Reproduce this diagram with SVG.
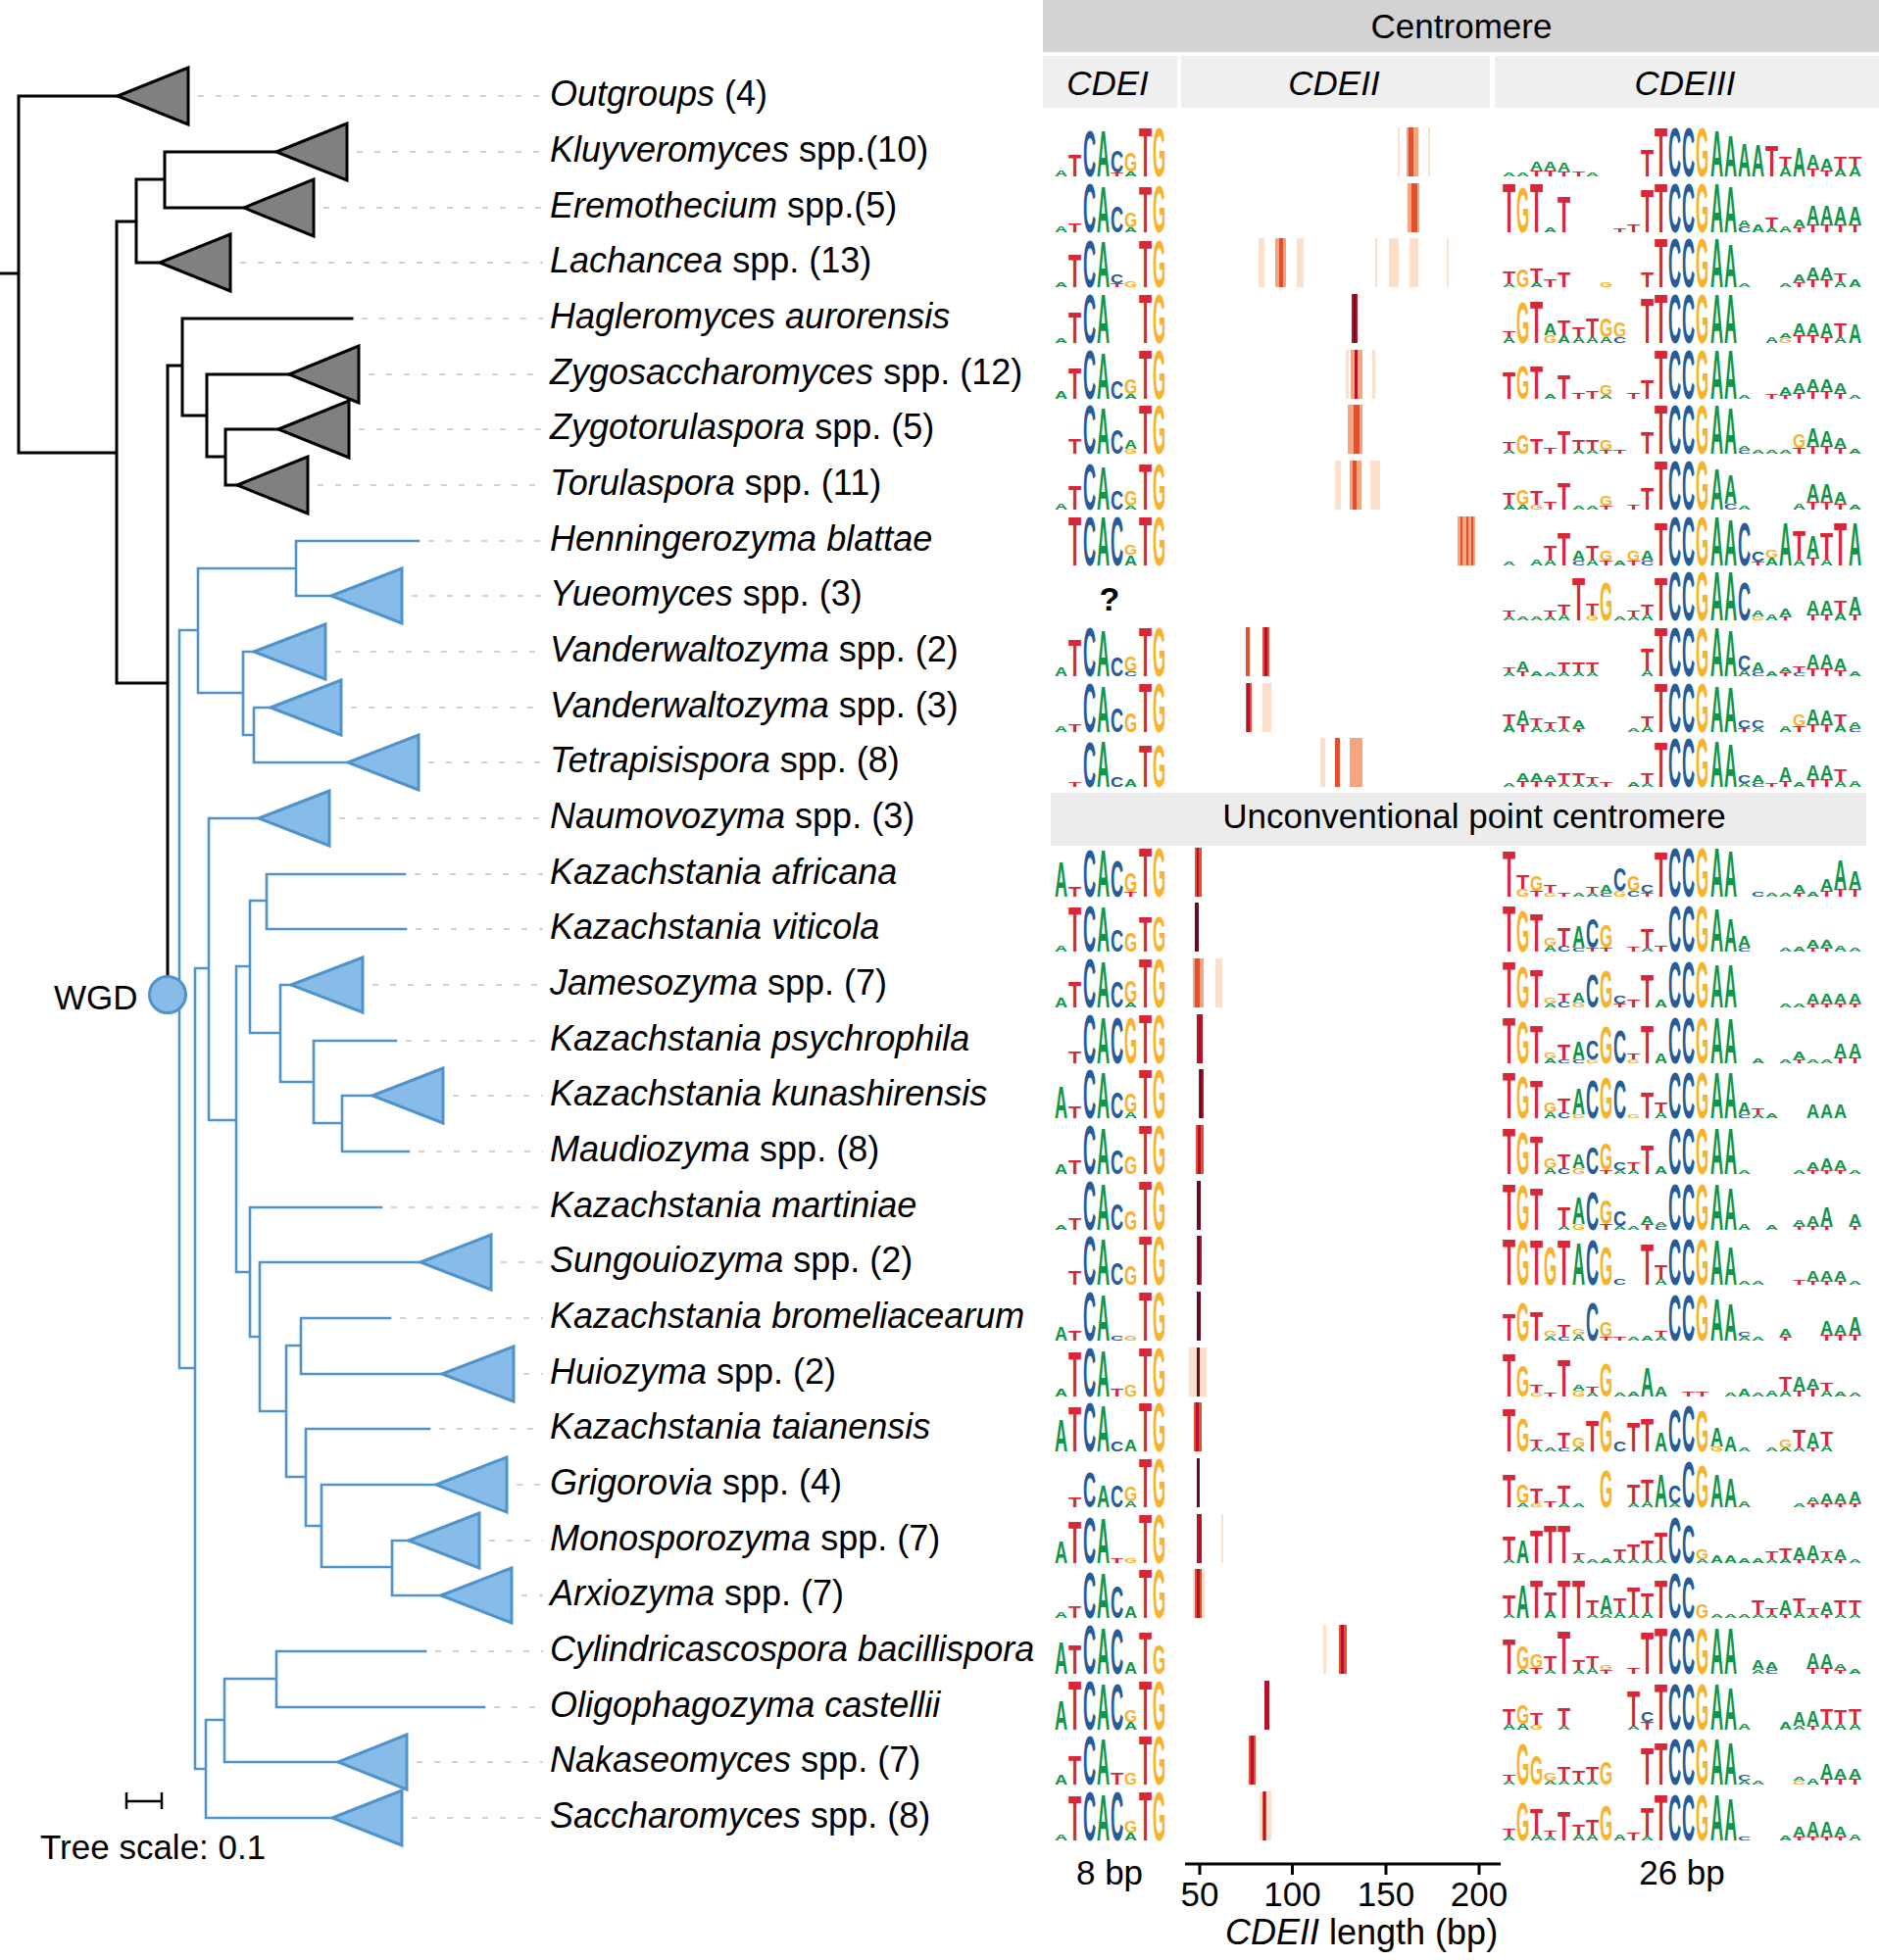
<svg xmlns="http://www.w3.org/2000/svg" width="1917" height="2000" viewBox="0 0 1917 2000">
<style>
.lbl{font-family:"Liberation Sans",Arial,sans-serif;font-size:36px;fill:#000}
.i{font-style:italic}
.hd{font-family:"Liberation Sans",Arial,sans-serif;font-size:35px;text-anchor:middle;fill:#000}
.lg text{font-family:"Liberation Sans",Arial,sans-serif;font-weight:bold;font-size:14px}
.A{fill:#109648}.C{fill:#255C99}.G{fill:#F7B32B}.T{fill:#D62839}
.bk{fill:none;stroke:#000;stroke-width:3;stroke-linecap:square}
.bl{fill:none;stroke:#4f93cc;stroke-width:2.6;stroke-linecap:square}
.gt{fill:#808080;stroke:#000;stroke-width:3}
.bt{fill:#86bce7;stroke:#4f93cc;stroke-width:3}
.dash{stroke:#c4c4c4;stroke-width:1.5;stroke-dasharray:6 12;fill:none}
.b1{fill:#fde0cb}.b2{fill:#f7a47e}.b3{fill:#e4502d}.b4{fill:#b5122a}.b5{fill:#6b0a1f}
.ax{stroke:#000;stroke-width:3;fill:none}
</style>
<rect width="1917" height="2000" fill="#fff"/>
<g id="connectors">
<path class="bk" d="M0 279H19 M19 98V462 M19 98H120 M19 462H119 M119 226V697 M119 226H139 M139 183V268 M139 183H168 M168 155V212 M168 155H282 M168 212H249 M139 268H163 M119 697H171 M171 373V996 M171 373H186 M186 325V424 M186 325H359 M186 424H211 M211 382V466 M211 382H295 M211 466H230 M230 438V495 M230 438H284 M230 495H242"/>
<path class="bl" d="M183 643V1396 M183 643H202 M202 580V707 M202 580H302 M302 552V608 M302 552H427 M302 608H338 M202 707H248 M248 665V750 M248 665H259 M248 750H259 M259 722V778 M259 722H276 M259 778H355 M183 1396H199 M199 988V1805 M199 988H213 M213 835V1143 M213 835H264 M213 1143H241 M241 986V1298 M241 986H255 M255 919V1054 M255 919H272 M272 892V948 M272 892H413 M272 948H414 M255 1054H286 M286 1005V1104 M286 1005H297 M286 1104H320 M320 1062V1146 M320 1062H404 M320 1146H349 M349 1118V1175 M349 1118H380 M349 1175H417 M241 1298H255 M255 1232V1364 M255 1232H389 M255 1364H265 M265 1288V1440 M265 1288H429 M265 1440H292 M292 1373V1507 M292 1373H307 M307 1345V1402 M307 1345H398 M307 1402H451 M292 1507H312 M312 1458V1557 M312 1458H438 M312 1557H328 M328 1515V1599 M328 1515H445 M328 1599H400 M400 1572V1628 M400 1572H417 M400 1628H450 M199 1805H210 M210 1755V1855 M210 1755H229 M229 1713V1798 M229 1713H282 M282 1685V1742 M282 1685H434 M282 1742H494 M229 1798H345 M210 1855H339"/>
<path class="dash" d="M202 98H554 M364 155H554 M330 212H554 M245 268H554 M369 325H554 M376 382H554 M366 438H554 M324 495H554 M437 552H554 M420 608H554 M342 665H554 M358 722H554 M437 778H554 M346 835H554 M423 892H554 M424 948H554 M380 1005H554 M414 1062H554 M462 1118H554 M427 1175H554 M399 1232H554 M511 1288H554 M408 1345H554 M534 1402H554 M448 1458H554 M527 1515H554 M499 1572H554 M532 1628H554 M444 1685H554 M504 1742H554 M425 1798H554 M420 1855H554"/>
</g>
<g id="wgd"><circle cx="171" cy="1015" r="18.5" fill="#86bce7" stroke="#4f93cc" stroke-width="3"/><text x="55" y="1030" font-family="Liberation Sans, Arial, sans-serif" font-size="35">WGD</text></g>
<g id="scale"><path d="M129 1838H165 M129 1829V1846 M165 1829V1846" stroke="#000" stroke-width="2.5" fill="none"/><text x="41" y="1897" font-family="Liberation Sans, Arial, sans-serif" font-size="35">Tree scale: 0.1</text></g>
<g id="n-outgroups"><polygon class="gt" points="120,98 192,69 192,127"/><text class="lbl" x="561" y="108"><tspan class="i">Outgroups</tspan> (4)</text></g>
<g id="n-kluyveromyces"><polygon class="gt" points="282,155 354,126 354,184"/><text class="lbl" x="561" y="165"><tspan class="i">Kluyveromyces</tspan> spp.(10)</text></g>
<g id="n-eremothecium"><polygon class="gt" points="249,212 320,183 320,241"/><text class="lbl" x="561" y="222"><tspan class="i">Eremothecium</tspan> spp.(5)</text></g>
<g id="n-lachancea"><polygon class="gt" points="163,268 235,239 235,297"/><text class="lbl" x="561" y="278"><tspan class="i">Lachancea</tspan> spp. (13)</text></g>
<g id="n-hagleromyces"><text class="lbl i" x="561" y="335">Hagleromyces aurorensis</text></g>
<g id="n-zygosaccharomyces"><polygon class="gt" points="295,382 366,353 366,411"/><text class="lbl" x="561" y="392"><tspan class="i">Zygosaccharomyces</tspan> spp. (12)</text></g>
<g id="n-zygotorulaspora"><polygon class="gt" points="284,438 356,409 356,467"/><text class="lbl" x="561" y="448"><tspan class="i">Zygotorulaspora</tspan> spp. (5)</text></g>
<g id="n-torulaspora"><polygon class="gt" points="242,495 314,466 314,524"/><text class="lbl" x="561" y="505"><tspan class="i">Torulaspora</tspan> spp. (11)</text></g>
<g id="n-henningerozyma"><text class="lbl i" x="561" y="562">Henningerozyma blattae</text></g>
<g id="n-yueomyces"><polygon class="bt" points="338,608 410,580 410,636"/><text class="lbl" x="561" y="618"><tspan class="i">Yueomyces</tspan> spp. (3)</text></g>
<g id="n-vanderwaltozyma2"><polygon class="bt" points="259,665 332,637 332,693"/><text class="lbl" x="561" y="675"><tspan class="i">Vanderwaltozyma</tspan> spp. (2)</text></g>
<g id="n-vanderwaltozyma3"><polygon class="bt" points="276,722 348,694 348,750"/><text class="lbl" x="561" y="732"><tspan class="i">Vanderwaltozyma</tspan> spp. (3)</text></g>
<g id="n-tetrapisispora"><polygon class="bt" points="355,778 427,750 427,806"/><text class="lbl" x="561" y="788"><tspan class="i">Tetrapisispora</tspan> spp. (8)</text></g>
<g id="n-naumovozyma"><polygon class="bt" points="264,835 336,807 336,863"/><text class="lbl" x="561" y="845"><tspan class="i">Naumovozyma</tspan> spp. (3)</text></g>
<g id="n-k-africana"><text class="lbl i" x="561" y="902">Kazachstania africana</text></g>
<g id="n-k-viticola"><text class="lbl i" x="561" y="958">Kazachstania viticola</text></g>
<g id="n-jamesozyma"><polygon class="bt" points="297,1005 370,977 370,1033"/><text class="lbl" x="561" y="1015"><tspan class="i">Jamesozyma</tspan> spp. (7)</text></g>
<g id="n-k-psychrophila"><text class="lbl i" x="561" y="1072">Kazachstania psychrophila</text></g>
<g id="n-k-kunashirensis"><polygon class="bt" points="380,1118 452,1090 452,1146"/><text class="lbl i" x="561" y="1128">Kazachstania kunashirensis</text></g>
<g id="n-maudiozyma"><text class="lbl" x="561" y="1185"><tspan class="i">Maudiozyma</tspan> spp. (8)</text></g>
<g id="n-k-martiniae"><text class="lbl i" x="561" y="1242">Kazachstania martiniae</text></g>
<g id="n-sungouiozyma"><polygon class="bt" points="429,1288 501,1260 501,1316"/><text class="lbl" x="561" y="1298"><tspan class="i">Sungouiozyma</tspan> spp. (2)</text></g>
<g id="n-k-bromeliacearum"><text class="lbl i" x="561" y="1355">Kazachstania bromeliacearum</text></g>
<g id="n-huiozyma"><polygon class="bt" points="451,1402 524,1374 524,1430"/><text class="lbl" x="561" y="1412"><tspan class="i">Huiozyma</tspan> spp. (2)</text></g>
<g id="n-k-taianensis"><text class="lbl i" x="561" y="1468">Kazachstania taianensis</text></g>
<g id="n-grigorovia"><polygon class="bt" points="445,1515 517,1487 517,1543"/><text class="lbl" x="561" y="1525"><tspan class="i">Grigorovia</tspan> spp. (4)</text></g>
<g id="n-monosporozyma"><polygon class="bt" points="417,1572 489,1544 489,1600"/><text class="lbl" x="561" y="1582"><tspan class="i">Monosporozyma</tspan> spp. (7)</text></g>
<g id="n-arxiozyma"><polygon class="bt" points="450,1628 522,1600 522,1656"/><text class="lbl" x="561" y="1638"><tspan class="i">Arxiozyma</tspan> spp. (7)</text></g>
<g id="n-cylindricascospora"><text class="lbl i" x="561" y="1695">Cylindricascospora bacillispora</text></g>
<g id="n-oligophagozyma"><text class="lbl i" x="561" y="1752">Oligophagozyma castellii</text></g>
<g id="n-nakaseomyces"><polygon class="bt" points="345,1798 415,1770 415,1826"/><text class="lbl" x="561" y="1808"><tspan class="i">Nakaseomyces</tspan> spp. (7)</text></g>
<g id="n-saccharomyces"><polygon class="bt" points="339,1855 410,1827 410,1883"/><text class="lbl" x="561" y="1865"><tspan class="i">Saccharomyces</tspan> spp. (8)</text></g>
<g id="headers">
<rect x="1064" y="0" width="853" height="53" fill="#d3d3d3"/>
<text class="hd" x="1491" y="39">Centromere</text>
<rect x="1064" y="57" width="137" height="53" fill="#efefef"/>
<rect x="1205" y="57" width="315" height="53" fill="#efefef"/>
<rect x="1525" y="57" width="392" height="53" fill="#efefef"/>
<text class="hd i" x="1130" y="97">CDEI</text>
<text class="hd i" x="1361" y="97">CDEII</text>
<text class="hd i" x="1719" y="97">CDEIII</text>
<rect x="1072" y="809" width="832" height="54" fill="#ececec"/>
<text class="hd" x="1504" y="845">Unconventional point centromere</text>
</g>
<g id="axis">
<path class="ax" d="M1209 1902H1531 M1224 1902V1913 M1318.5 1902V1913 M1414 1902V1913 M1509 1902V1913"/>
<text class="hd" x="1224" y="1945">50</text><text class="hd" x="1318.5" y="1945">100</text><text class="hd" x="1414" y="1945">150</text><text class="hd" x="1509" y="1945">200</text>
<text class="hd" x="1132" y="1923">8 bp</text><text class="hd" x="1716" y="1923">26 bp</text>
<text class="lbl" x="1250" y="1984"><tspan class="i">CDEII</tspan> length (bp)</text>
</g>
<text id="unknown-cdei" x="1132" y="623" font-family="Liberation Sans, Arial, sans-serif" font-weight="bold" font-size="34" text-anchor="middle" fill="#000">?</text>
<g class="lg">
<g id="logo-r1" transform="translate(0,180)">
<text class="A" transform="matrix(1.3 0 0 .6 1076 0)">A</text><text class="T" transform="matrix(1.54 0 0 2.2 1090 0)">T</text><text class="C" transform="matrix(1.3 0 0 4.8 1105 0)">C</text><text class="A" transform="matrix(1.3 0 0 4.7 1119 0)">A</text><text class="T" transform="matrix(1.54 0 0 .4 1133 0)">T</text><text class="C" transform="matrix(1.3 0 0 2.2 1133 -4)">C</text><text class="A" transform="matrix(1.3 0 0 .5 1147 0)">A</text><text class="G" transform="matrix(1.21 0 0 2 1147 -5)">G</text><text class="T" transform="matrix(1.54 0 0 5 1162 0)">T</text><text class="G" transform="matrix(1.21 0 0 5 1176 0)">G</text>
<rect class="b1" x="1426" y="-50" width="2" height="50"/><rect class="b2" x="1435" y="-50" width="12" height="50"/><rect class="b3" x="1437" y="-50" width="5" height="50"/><rect class="b1" x="1457" y="-50" width="2" height="50"/>
<text class="A" transform="matrix(1.3 0 0 .4 1533 0)">A</text><text class="A" transform="matrix(1.3 0 0 .4 1547 0)">A</text><text class="T" transform="matrix(1.54 0 0 .6 1561 0)">T</text><text class="A" transform="matrix(1.3 0 0 .9 1561 -6)">A</text><text class="T" transform="matrix(1.54 0 0 .6 1575 0)">T</text><text class="A" transform="matrix(1.3 0 0 .9 1575 -6)">A</text><text class="T" transform="matrix(1.54 0 0 .5 1589 0)">T</text><text class="A" transform="matrix(1.3 0 0 .9 1589 -5)">A</text><text class="T" transform="matrix(1.54 0 0 .5 1604 0)">T</text><text class="A" transform="matrix(1.3 0 0 .4 1618 0)">A</text><text class="T" transform="matrix(1.54 0 0 2.8 1674 0)">T</text><text class="T" transform="matrix(1.54 0 0 5 1688 0)">T</text><text class="C" transform="matrix(1.3 0 0 5 1702 0)">C</text><text class="C" transform="matrix(1.3 0 0 5 1716 0)">C</text><text class="G" transform="matrix(1.21 0 0 5 1730 0)">G</text><text class="A" transform="matrix(1.3 0 0 4.8 1745 0)">A</text><text class="A" transform="matrix(1.3 0 0 4.2 1759 0)">A</text><text class="A" transform="matrix(1.3 0 0 3.5 1773 0)">A</text><text class="A" transform="matrix(1.3 0 0 3.3 1787 0)">A</text><text class="T" transform="matrix(1.54 0 0 3.2 1801 0)">T</text><text class="A" transform="matrix(1.3 0 0 1 1815 0)">A</text><text class="T" transform="matrix(1.54 0 0 1 1815 -10)">T</text><text class="A" transform="matrix(1.3 0 0 3 1829 0)">A</text><text class="T" transform="matrix(1.54 0 0 .8 1843 0)">T</text><text class="A" transform="matrix(1.3 0 0 1.5 1843 -8)">A</text><text class="T" transform="matrix(1.54 0 0 .6 1857 0)">T</text><text class="A" transform="matrix(1.3 0 0 1.2 1857 -6)">A</text><text class="A" transform="matrix(1.3 0 0 .8 1871 0)">A</text><text class="T" transform="matrix(1.54 0 0 1.2 1871 -8)">T</text><text class="A" transform="matrix(1.3 0 0 1 1886 0)">A</text><text class="T" transform="matrix(1.54 0 0 1 1886 -10)">T</text>
</g>
<g id="logo-r2" transform="translate(0,237)">
<text class="A" transform="matrix(1.3 0 0 .7 1076 0)">A</text><text class="T" transform="matrix(1.54 0 0 .9 1090 0)">T</text><text class="C" transform="matrix(1.3 0 0 5 1105 0)">C</text><text class="A" transform="matrix(1.3 0 0 4.8 1119 0)">A</text><text class="C" transform="matrix(1.3 0 0 2.7 1133 0)">C</text><text class="A" transform="matrix(1.3 0 0 .5 1147 0)">A</text><text class="G" transform="matrix(1.21 0 0 1.6 1147 -5)">G</text><text class="T" transform="matrix(1.54 0 0 4.8 1162 0)">T</text><text class="G" transform="matrix(1.21 0 0 4.9 1176 0)">G</text>
<rect class="b2" x="1436" y="-50" width="12" height="50"/><rect class="b3" x="1440" y="-50" width="6" height="50"/>
<text class="T" transform="matrix(1.54 0 0 5 1533 0)">T</text><text class="G" transform="matrix(1.21 0 0 4.6 1547 0)">G</text><text class="T" transform="matrix(1.54 0 0 5 1561 0)">T</text><text class="A" transform="matrix(1.3 0 0 .5 1575 0)">A</text><text class="T" transform="matrix(1.54 0 0 3.7 1589 0)">T</text><text class="T" transform="matrix(1.54 0 0 .4 1646 0)">T</text><text class="T" transform="matrix(1.54 0 0 .8 1660 0)">T</text><text class="T" transform="matrix(1.54 0 0 4.5 1674 0)">T</text><text class="T" transform="matrix(1.54 0 0 5 1688 0)">T</text><text class="C" transform="matrix(1.3 0 0 5 1702 0)">C</text><text class="C" transform="matrix(1.3 0 0 5 1716 0)">C</text><text class="G" transform="matrix(1.21 0 0 5 1730 0)">G</text><text class="A" transform="matrix(1.3 0 0 5 1745 0)">A</text><text class="A" transform="matrix(1.3 0 0 4.8 1759 0)">A</text><text class="C" transform="matrix(1.3 0 0 .6 1773 0)">C</text><text class="A" transform="matrix(1.3 0 0 .6 1773 -6)">A</text><text class="A" transform="matrix(1.3 0 0 .8 1787 0)">A</text><text class="A" transform="matrix(1.3 0 0 .5 1801 0)">A</text><text class="T" transform="matrix(1.54 0 0 1 1801 -5)">T</text><text class="A" transform="matrix(1.3 0 0 .6 1815 0)">A</text><text class="T" transform="matrix(1.54 0 0 .5 1829 0)">T</text><text class="A" transform="matrix(1.3 0 0 .8 1829 -5)">A</text><text class="T" transform="matrix(1.54 0 0 .8 1843 0)">T</text><text class="A" transform="matrix(1.3 0 0 2 1843 -8)">A</text><text class="T" transform="matrix(1.54 0 0 .8 1857 0)">T</text><text class="A" transform="matrix(1.3 0 0 2 1857 -8)">A</text><text class="T" transform="matrix(1.54 0 0 .8 1871 0)">T</text><text class="A" transform="matrix(1.3 0 0 1.8 1871 -8)">A</text><text class="T" transform="matrix(1.54 0 0 .8 1886 0)">T</text><text class="A" transform="matrix(1.3 0 0 1.8 1886 -8)">A</text>
</g>
<g id="logo-r3" transform="translate(0,293)">
<text class="A" transform="matrix(1.3 0 0 .5 1076 0)">A</text><text class="T" transform="matrix(1.54 0 0 3.4 1090 0)">T</text><text class="C" transform="matrix(1.3 0 0 4.9 1105 0)">C</text><text class="A" transform="matrix(1.3 0 0 4.8 1119 0)">A</text><text class="T" transform="matrix(1.54 0 0 .4 1133 0)">T</text><text class="C" transform="matrix(1.3 0 0 .9 1133 -4)">C</text><text class="G" transform="matrix(1.21 0 0 .7 1147 0)">G</text><text class="T" transform="matrix(1.54 0 0 4.9 1162 0)">T</text><text class="G" transform="matrix(1.21 0 0 4.9 1176 0)">G</text>
<rect class="b1" x="1284" y="-50" width="6" height="50"/><rect class="b2" x="1301" y="-50" width="11" height="50"/><rect class="b3" x="1305" y="-50" width="4" height="50"/><rect class="b1" x="1323" y="-50" width="7" height="50"/><rect class="b1" x="1403" y="-50" width="2" height="50"/><rect class="b1" x="1417" y="-50" width="10" height="50"/><rect class="b1" x="1438" y="-50" width="9" height="50"/><rect class="b1" x="1476" y="-50" width="2" height="50"/>
<text class="A" transform="matrix(1.3 0 0 .4 1533 0)">A</text><text class="T" transform="matrix(1.54 0 0 1.2 1533 -4)">T</text><text class="G" transform="matrix(1.21 0 0 1.8 1547 0)">G</text><text class="A" transform="matrix(1.3 0 0 .5 1561 0)">A</text><text class="T" transform="matrix(1.54 0 0 1.4 1561 -5)">T</text><text class="T" transform="matrix(1.54 0 0 .8 1575 0)">T</text><text class="T" transform="matrix(1.54 0 0 1.6 1589 0)">T</text><text class="G" transform="matrix(1.21 0 0 .5 1632 0)">G</text><text class="T" transform="matrix(1.54 0 0 1.6 1674 0)">T</text><text class="T" transform="matrix(1.54 0 0 5 1688 0)">T</text><text class="C" transform="matrix(1.3 0 0 5 1702 0)">C</text><text class="C" transform="matrix(1.3 0 0 5 1716 0)">C</text><text class="G" transform="matrix(1.21 0 0 5 1730 0)">G</text><text class="A" transform="matrix(1.3 0 0 5 1745 0)">A</text><text class="A" transform="matrix(1.3 0 0 4.5 1759 0)">A</text><text class="A" transform="matrix(1.3 0 0 .4 1773 0)">A</text><text class="A" transform="matrix(1.3 0 0 .4 1815 0)">A</text><text class="T" transform="matrix(1.54 0 0 .5 1829 0)">T</text><text class="A" transform="matrix(1.3 0 0 .8 1829 -5)">A</text><text class="T" transform="matrix(1.54 0 0 .8 1843 0)">T</text><text class="A" transform="matrix(1.3 0 0 1.2 1843 -8)">A</text><text class="T" transform="matrix(1.54 0 0 .8 1857 0)">T</text><text class="A" transform="matrix(1.3 0 0 1.2 1857 -8)">A</text><text class="A" transform="matrix(1.3 0 0 .6 1871 0)">A</text><text class="T" transform="matrix(1.54 0 0 .8 1871 -6)">T</text><text class="A" transform="matrix(1.3 0 0 .8 1886 0)">A</text>
</g>
<g id="logo-r4" transform="translate(0,350)">
<text class="A" transform="matrix(1.3 0 0 .5 1076 0)">A</text><text class="T" transform="matrix(1.54 0 0 3.2 1090 0)">T</text><text class="C" transform="matrix(1.3 0 0 5 1105 0)">C</text><text class="A" transform="matrix(1.3 0 0 5 1119 0)">A</text><text class="T" transform="matrix(1.54 0 0 5 1162 0)">T</text><text class="G" transform="matrix(1.21 0 0 5 1176 0)">G</text>
<rect class="b4" x="1379" y="-50" width="6" height="50"/><rect class="b5" x="1381" y="-50" width="2" height="50"/>
<text class="A" transform="matrix(1.3 0 0 .6 1533 0)">A</text><text class="T" transform="matrix(1.54 0 0 .6 1533 -6)">T</text><text class="G" transform="matrix(1.21 0 0 4.2 1547 0)">G</text><text class="T" transform="matrix(1.54 0 0 4.4 1561 0)">T</text><text class="G" transform="matrix(1.21 0 0 .8 1575 0)">G</text><text class="A" transform="matrix(1.3 0 0 1.2 1575 -8)">A</text><text class="A" transform="matrix(1.3 0 0 .8 1589 0)">A</text><text class="T" transform="matrix(1.54 0 0 1.6 1589 -8)">T</text><text class="A" transform="matrix(1.3 0 0 .6 1604 0)">A</text><text class="T" transform="matrix(1.54 0 0 1 1604 -6)">T</text><text class="A" transform="matrix(1.3 0 0 .6 1618 0)">A</text><text class="T" transform="matrix(1.54 0 0 2 1618 -6)">T</text><text class="A" transform="matrix(1.3 0 0 .6 1632 0)">A</text><text class="G" transform="matrix(1.21 0 0 2 1632 -6)">G</text><text class="C" transform="matrix(1.3 0 0 .6 1646 0)">C</text><text class="G" transform="matrix(1.21 0 0 1.6 1646 -6)">G</text><text class="T" transform="matrix(1.54 0 0 4.6 1674 0)">T</text><text class="T" transform="matrix(1.54 0 0 5 1688 0)">T</text><text class="C" transform="matrix(1.3 0 0 5 1702 0)">C</text><text class="C" transform="matrix(1.3 0 0 5 1716 0)">C</text><text class="G" transform="matrix(1.21 0 0 5 1730 0)">G</text><text class="A" transform="matrix(1.3 0 0 5 1745 0)">A</text><text class="A" transform="matrix(1.3 0 0 5 1759 0)">A</text><text class="A" transform="matrix(1.3 0 0 .6 1801 0)">A</text><text class="G" transform="matrix(1.21 0 0 .5 1815 0)">G</text><text class="A" transform="matrix(1.3 0 0 .5 1815 -5)">A</text><text class="T" transform="matrix(1.54 0 0 .8 1829 0)">T</text><text class="A" transform="matrix(1.3 0 0 1.2 1829 -8)">A</text><text class="T" transform="matrix(1.54 0 0 .8 1843 0)">T</text><text class="A" transform="matrix(1.3 0 0 1.2 1843 -8)">A</text><text class="T" transform="matrix(1.54 0 0 .6 1857 0)">T</text><text class="A" transform="matrix(1.3 0 0 1.4 1857 -6)">A</text><text class="A" transform="matrix(1.3 0 0 .6 1871 0)">A</text><text class="T" transform="matrix(1.54 0 0 1.4 1871 -6)">T</text><text class="A" transform="matrix(1.3 0 0 2 1886 0)">A</text>
</g>
<g id="logo-r5" transform="translate(0,407)">
<text class="A" transform="matrix(1.3 0 0 .8 1076 0)">A</text><text class="T" transform="matrix(1.54 0 0 3.2 1090 0)">T</text><text class="C" transform="matrix(1.3 0 0 5 1105 0)">C</text><text class="A" transform="matrix(1.3 0 0 4.8 1119 0)">A</text><text class="C" transform="matrix(1.3 0 0 1.8 1133 0)">C</text><text class="A" transform="matrix(1.3 0 0 .5 1147 0)">A</text><text class="G" transform="matrix(1.21 0 0 1.6 1147 -5)">G</text><text class="T" transform="matrix(1.54 0 0 5 1162 0)">T</text><text class="G" transform="matrix(1.21 0 0 5 1176 0)">G</text>
<rect class="b1" x="1373" y="-50" width="3" height="50"/><rect class="b2" x="1378" y="-50" width="12" height="50"/><rect class="b4" x="1382" y="-50" width="3" height="50"/><rect class="b1" x="1400" y="-50" width="3" height="50"/>
<text class="T" transform="matrix(1.54 0 0 2.8 1533 0)">T</text><text class="G" transform="matrix(1.21 0 0 3.4 1547 0)">G</text><text class="T" transform="matrix(1.54 0 0 3.4 1561 0)">T</text><text class="A" transform="matrix(1.3 0 0 .5 1575 0)">A</text><text class="T" transform="matrix(1.54 0 0 2.5 1589 0)">T</text><text class="T" transform="matrix(1.54 0 0 .6 1604 0)">T</text><text class="T" transform="matrix(1.54 0 0 .8 1618 0)">T</text><text class="A" transform="matrix(1.3 0 0 .4 1632 0)">A</text><text class="G" transform="matrix(1.21 0 0 1 1632 -4)">G</text><text class="T" transform="matrix(1.54 0 0 .6 1660 0)">T</text><text class="T" transform="matrix(1.54 0 0 2 1674 0)">T</text><text class="T" transform="matrix(1.54 0 0 5 1688 0)">T</text><text class="C" transform="matrix(1.3 0 0 5 1702 0)">C</text><text class="C" transform="matrix(1.3 0 0 5 1716 0)">C</text><text class="G" transform="matrix(1.21 0 0 5 1730 0)">G</text><text class="A" transform="matrix(1.3 0 0 5 1745 0)">A</text><text class="A" transform="matrix(1.3 0 0 5 1759 0)">A</text><text class="A" transform="matrix(1.3 0 0 .4 1773 0)">A</text><text class="T" transform="matrix(1.54 0 0 .5 1801 0)">T</text><text class="T" transform="matrix(1.54 0 0 .4 1815 0)">T</text><text class="A" transform="matrix(1.3 0 0 .8 1815 -4)">A</text><text class="T" transform="matrix(1.54 0 0 .6 1829 0)">T</text><text class="A" transform="matrix(1.3 0 0 1 1829 -6)">A</text><text class="T" transform="matrix(1.54 0 0 .8 1843 0)">T</text><text class="A" transform="matrix(1.3 0 0 1.2 1843 -8)">A</text><text class="T" transform="matrix(1.54 0 0 .8 1857 0)">T</text><text class="A" transform="matrix(1.3 0 0 1.2 1857 -8)">A</text><text class="T" transform="matrix(1.54 0 0 .6 1871 0)">T</text><text class="A" transform="matrix(1.3 0 0 1 1871 -6)">A</text><text class="A" transform="matrix(1.3 0 0 .4 1886 0)">A</text>
</g>
<g id="logo-r6" transform="translate(0,463)">
<text class="T" transform="matrix(1.54 0 0 1.6 1090 0)">T</text><text class="C" transform="matrix(1.3 0 0 5 1105 0)">C</text><text class="A" transform="matrix(1.3 0 0 4.8 1119 0)">A</text><text class="C" transform="matrix(1.3 0 0 2.5 1133 0)">C</text><text class="G" transform="matrix(1.21 0 0 .5 1147 0)">G</text><text class="A" transform="matrix(1.3 0 0 .9 1147 -5)">A</text><text class="T" transform="matrix(1.54 0 0 5 1162 0)">T</text><text class="G" transform="matrix(1.21 0 0 5 1176 0)">G</text>
<rect class="b2" x="1375" y="-50" width="15" height="50"/><rect class="b3" x="1381" y="-50" width="6" height="50"/>
<text class="A" transform="matrix(1.3 0 0 .4 1533 0)">A</text><text class="T" transform="matrix(1.54 0 0 .8 1533 -4)">T</text><text class="G" transform="matrix(1.21 0 0 2 1547 0)">G</text><text class="T" transform="matrix(1.54 0 0 1.6 1561 0)">T</text><text class="T" transform="matrix(1.54 0 0 .6 1575 0)">T</text><text class="T" transform="matrix(1.54 0 0 2.4 1589 0)">T</text><text class="A" transform="matrix(1.3 0 0 .4 1604 0)">A</text><text class="T" transform="matrix(1.54 0 0 1 1604 -4)">T</text><text class="A" transform="matrix(1.3 0 0 .4 1618 0)">A</text><text class="T" transform="matrix(1.54 0 0 1 1618 -4)">T</text><text class="T" transform="matrix(1.54 0 0 .4 1632 0)">T</text><text class="G" transform="matrix(1.21 0 0 1 1632 -4)">G</text><text class="T" transform="matrix(1.54 0 0 .4 1646 0)">T</text><text class="T" transform="matrix(1.54 0 0 2.2 1674 0)">T</text><text class="T" transform="matrix(1.54 0 0 5 1688 0)">T</text><text class="C" transform="matrix(1.3 0 0 5 1702 0)">C</text><text class="C" transform="matrix(1.3 0 0 5 1716 0)">C</text><text class="G" transform="matrix(1.21 0 0 5 1730 0)">G</text><text class="A" transform="matrix(1.3 0 0 5 1745 0)">A</text><text class="A" transform="matrix(1.3 0 0 4.8 1759 0)">A</text><text class="C" transform="matrix(1.3 0 0 .4 1773 0)">C</text><text class="A" transform="matrix(1.3 0 0 .4 1773 -4)">A</text><text class="A" transform="matrix(1.3 0 0 .4 1787 0)">A</text><text class="A" transform="matrix(1.3 0 0 .4 1801 0)">A</text><text class="A" transform="matrix(1.3 0 0 .4 1815 0)">A</text><text class="T" transform="matrix(1.54 0 0 .6 1829 0)">T</text><text class="G" transform="matrix(1.21 0 0 1.4 1829 -6)">G</text><text class="T" transform="matrix(1.54 0 0 .8 1843 0)">T</text><text class="A" transform="matrix(1.3 0 0 1.8 1843 -8)">A</text><text class="T" transform="matrix(1.54 0 0 .8 1857 0)">T</text><text class="A" transform="matrix(1.3 0 0 1.6 1857 -8)">A</text><text class="T" transform="matrix(1.54 0 0 .6 1871 0)">T</text><text class="A" transform="matrix(1.3 0 0 1 1871 -6)">A</text><text class="A" transform="matrix(1.3 0 0 .5 1886 0)">A</text>
</g>
<g id="logo-r7" transform="translate(0,520)">
<text class="A" transform="matrix(1.3 0 0 .6 1076 0)">A</text><text class="T" transform="matrix(1.54 0 0 2.5 1090 0)">T</text><text class="C" transform="matrix(1.3 0 0 4.7 1105 0)">C</text><text class="A" transform="matrix(1.3 0 0 4.5 1119 0)">A</text><text class="C" transform="matrix(1.3 0 0 2 1133 0)">C</text><text class="A" transform="matrix(1.3 0 0 .4 1147 0)">A</text><text class="G" transform="matrix(1.21 0 0 1.6 1147 -4)">G</text><text class="T" transform="matrix(1.54 0 0 4.8 1162 0)">T</text><text class="G" transform="matrix(1.21 0 0 4.8 1176 0)">G</text>
<rect class="b1" x="1362" y="-50" width="6" height="50"/><rect class="b2" x="1377" y="-50" width="12" height="50"/><rect class="b3" x="1380" y="-50" width="4" height="50"/><rect class="b1" x="1398" y="-50" width="10" height="50"/>
<text class="A" transform="matrix(1.3 0 0 .5 1533 0)">A</text><text class="T" transform="matrix(1.54 0 0 1.2 1533 -5)">T</text><text class="A" transform="matrix(1.3 0 0 .5 1547 0)">A</text><text class="G" transform="matrix(1.21 0 0 1.6 1547 -5)">G</text><text class="G" transform="matrix(1.21 0 0 .5 1561 0)">G</text><text class="T" transform="matrix(1.54 0 0 1.4 1561 -5)">T</text><text class="T" transform="matrix(1.54 0 0 .8 1575 0)">T</text><text class="T" transform="matrix(1.54 0 0 2.8 1589 0)">T</text><text class="A" transform="matrix(1.3 0 0 .4 1604 0)">A</text><text class="A" transform="matrix(1.3 0 0 .4 1618 0)">A</text><text class="T" transform="matrix(1.54 0 0 .4 1632 0)">T</text><text class="G" transform="matrix(1.21 0 0 1 1632 -4)">G</text><text class="T" transform="matrix(1.54 0 0 .5 1660 0)">T</text><text class="T" transform="matrix(1.54 0 0 2.3 1674 0)">T</text><text class="T" transform="matrix(1.54 0 0 5 1688 0)">T</text><text class="C" transform="matrix(1.3 0 0 5 1702 0)">C</text><text class="C" transform="matrix(1.3 0 0 5 1716 0)">C</text><text class="G" transform="matrix(1.21 0 0 5 1730 0)">G</text><text class="A" transform="matrix(1.3 0 0 4.2 1745 0)">A</text><text class="C" transform="matrix(1.3 0 0 .6 1759 0)">C</text><text class="A" transform="matrix(1.3 0 0 3 1759 -6)">A</text><text class="A" transform="matrix(1.3 0 0 .4 1773 0)">A</text><text class="A" transform="matrix(1.3 0 0 .6 1829 0)">A</text><text class="T" transform="matrix(1.54 0 0 .8 1843 0)">T</text><text class="A" transform="matrix(1.3 0 0 1.8 1843 -8)">A</text><text class="T" transform="matrix(1.54 0 0 .8 1857 0)">T</text><text class="A" transform="matrix(1.3 0 0 1.8 1857 -8)">A</text><text class="T" transform="matrix(1.54 0 0 .6 1871 0)">T</text><text class="A" transform="matrix(1.3 0 0 1.2 1871 -6)">A</text><text class="A" transform="matrix(1.3 0 0 .5 1886 0)">A</text>
</g>
<g id="logo-r8" transform="translate(0,577)">
<text class="T" transform="matrix(1.54 0 0 5 1090 0)">T</text><text class="C" transform="matrix(1.3 0 0 5 1105 0)">C</text><text class="A" transform="matrix(1.3 0 0 5 1119 0)">A</text><text class="C" transform="matrix(1.3 0 0 5 1133 0)">C</text><text class="A" transform="matrix(1.3 0 0 1.1 1147 0)">A</text><text class="G" transform="matrix(1.21 0 0 1.1 1147 -11)">G</text><text class="T" transform="matrix(1.54 0 0 5 1162 0)">T</text><text class="G" transform="matrix(1.21 0 0 5 1176 0)">G</text>
<rect class="b2" x="1487" y="-50" width="18" height="50"/><rect class="b3" x="1490" y="-50" width="2" height="50"/><rect class="b3" x="1496" y="-50" width="2" height="50"/><rect class="b3" x="1501" y="-50" width="2" height="50"/>
<text class="A" transform="matrix(1.3 0 0 .4 1533 0)">A</text><text class="A" transform="matrix(1.3 0 0 .6 1561 0)">A</text><text class="A" transform="matrix(1.3 0 0 .6 1575 0)">A</text><text class="T" transform="matrix(1.54 0 0 1.5 1575 -6)">T</text><text class="T" transform="matrix(1.54 0 0 3.5 1589 0)">T</text><text class="C" transform="matrix(1.3 0 0 .5 1604 0)">C</text><text class="A" transform="matrix(1.3 0 0 1 1604 -5)">A</text><text class="A" transform="matrix(1.3 0 0 .6 1618 0)">A</text><text class="T" transform="matrix(1.54 0 0 1.4 1618 -6)">T</text><text class="T" transform="matrix(1.54 0 0 .5 1632 0)">T</text><text class="G" transform="matrix(1.21 0 0 1 1632 -5)">G</text><text class="A" transform="matrix(1.3 0 0 .5 1646 0)">A</text><text class="T" transform="matrix(1.54 0 0 .5 1660 0)">T</text><text class="G" transform="matrix(1.21 0 0 1 1660 -5)">G</text><text class="C" transform="matrix(1.3 0 0 .5 1674 0)">C</text><text class="A" transform="matrix(1.3 0 0 1 1674 -5)">A</text><text class="T" transform="matrix(1.54 0 0 4.5 1688 0)">T</text><text class="C" transform="matrix(1.3 0 0 5 1702 0)">C</text><text class="C" transform="matrix(1.3 0 0 5 1716 0)">C</text><text class="G" transform="matrix(1.21 0 0 5 1730 0)">G</text><text class="A" transform="matrix(1.3 0 0 5 1745 0)">A</text><text class="A" transform="matrix(1.3 0 0 4.8 1759 0)">A</text><text class="C" transform="matrix(1.3 0 0 4.5 1773 0)">C</text><text class="T" transform="matrix(1.54 0 0 .4 1787 0)">T</text><text class="C" transform="matrix(1.3 0 0 1 1787 -4)">C</text><text class="A" transform="matrix(1.3 0 0 .8 1801 0)">A</text><text class="G" transform="matrix(1.21 0 0 .8 1801 -8)">G</text><text class="A" transform="matrix(1.3 0 0 4.5 1815 0)">A</text><text class="A" transform="matrix(1.3 0 0 .6 1829 0)">A</text><text class="T" transform="matrix(1.54 0 0 3 1829 -6)">T</text><text class="T" transform="matrix(1.54 0 0 .8 1843 0)">T</text><text class="A" transform="matrix(1.3 0 0 2.2 1843 -8)">A</text><text class="A" transform="matrix(1.3 0 0 .6 1857 0)">A</text><text class="T" transform="matrix(1.54 0 0 2.8 1857 -6)">T</text><text class="T" transform="matrix(1.54 0 0 4.5 1871 0)">T</text><text class="A" transform="matrix(1.3 0 0 4.5 1886 0)">A</text>
</g>
<g id="logo-r9" transform="translate(0,633)">
<text class="A" transform="matrix(1.3 0 0 .4 1533 0)">A</text><text class="T" transform="matrix(1.54 0 0 .6 1533 -4)">T</text><text class="A" transform="matrix(1.3 0 0 .4 1547 0)">A</text><text class="A" transform="matrix(1.3 0 0 .4 1561 0)">A</text><text class="A" transform="matrix(1.3 0 0 .4 1575 0)">A</text><text class="T" transform="matrix(1.54 0 0 .6 1575 -4)">T</text><text class="A" transform="matrix(1.3 0 0 .6 1589 0)">A</text><text class="T" transform="matrix(1.54 0 0 1 1589 -6)">T</text><text class="T" transform="matrix(1.54 0 0 4.5 1604 0)">T</text><text class="G" transform="matrix(1.21 0 0 .5 1618 0)">G</text><text class="T" transform="matrix(1.54 0 0 1.2 1618 -5)">T</text><text class="G" transform="matrix(1.21 0 0 4 1632 0)">G</text><text class="A" transform="matrix(1.3 0 0 .4 1646 0)">A</text><text class="A" transform="matrix(1.3 0 0 .4 1660 0)">A</text><text class="T" transform="matrix(1.54 0 0 .6 1660 -4)">T</text><text class="A" transform="matrix(1.3 0 0 .6 1674 0)">A</text><text class="T" transform="matrix(1.54 0 0 1 1674 -6)">T</text><text class="T" transform="matrix(1.54 0 0 4.5 1688 0)">T</text><text class="C" transform="matrix(1.3 0 0 5 1702 0)">C</text><text class="C" transform="matrix(1.3 0 0 5 1716 0)">C</text><text class="G" transform="matrix(1.21 0 0 5 1730 0)">G</text><text class="A" transform="matrix(1.3 0 0 5 1745 0)">A</text><text class="A" transform="matrix(1.3 0 0 5 1759 0)">A</text><text class="C" transform="matrix(1.3 0 0 4 1773 0)">C</text><text class="G" transform="matrix(1.21 0 0 .4 1787 0)">G</text><text class="A" transform="matrix(1.3 0 0 .6 1787 -4)">A</text><text class="A" transform="matrix(1.3 0 0 .6 1801 0)">A</text><text class="T" transform="matrix(1.54 0 0 .4 1815 0)">T</text><text class="A" transform="matrix(1.3 0 0 .8 1815 -4)">A</text><text class="T" transform="matrix(1.54 0 0 .6 1843 0)">T</text><text class="A" transform="matrix(1.3 0 0 1.4 1843 -6)">A</text><text class="T" transform="matrix(1.54 0 0 .6 1857 0)">T</text><text class="A" transform="matrix(1.3 0 0 1.4 1857 -6)">A</text><text class="A" transform="matrix(1.3 0 0 .8 1871 0)">A</text><text class="T" transform="matrix(1.54 0 0 1.2 1871 -8)">T</text><text class="T" transform="matrix(1.54 0 0 .6 1886 0)">T</text><text class="A" transform="matrix(1.3 0 0 1.8 1886 -6)">A</text>
</g>
<g id="logo-r10" transform="translate(0,690)">
<text class="A" transform="matrix(1.3 0 0 .9 1076 0)">A</text><text class="T" transform="matrix(1.54 0 0 3.8 1090 0)">T</text><text class="C" transform="matrix(1.3 0 0 5 1105 0)">C</text><text class="A" transform="matrix(1.3 0 0 4.8 1119 0)">A</text><text class="C" transform="matrix(1.3 0 0 2 1133 0)">C</text><text class="C" transform="matrix(1.3 0 0 .5 1147 0)">C</text><text class="G" transform="matrix(1.21 0 0 1.6 1147 -5)">G</text><text class="T" transform="matrix(1.54 0 0 5 1162 0)">T</text><text class="G" transform="matrix(1.21 0 0 5 1176 0)">G</text>
<rect class="b3" x="1271" y="-50" width="4" height="50"/><rect class="b3" x="1288" y="-50" width="7" height="50"/><rect class="b4" x="1290" y="-50" width="3" height="50"/>
<text class="A" transform="matrix(1.3 0 0 .4 1533 0)">A</text><text class="T" transform="matrix(1.54 0 0 .5 1533 -4)">T</text><text class="T" transform="matrix(1.54 0 0 .5 1547 0)">T</text><text class="A" transform="matrix(1.3 0 0 1 1547 -5)">A</text><text class="A" transform="matrix(1.3 0 0 .5 1561 0)">A</text><text class="A" transform="matrix(1.3 0 0 .4 1575 0)">A</text><text class="A" transform="matrix(1.3 0 0 .4 1589 0)">A</text><text class="T" transform="matrix(1.54 0 0 1 1589 -4)">T</text><text class="A" transform="matrix(1.3 0 0 .4 1604 0)">A</text><text class="T" transform="matrix(1.54 0 0 1 1604 -4)">T</text><text class="A" transform="matrix(1.3 0 0 .4 1618 0)">A</text><text class="T" transform="matrix(1.54 0 0 1 1618 -4)">T</text><text class="A" transform="matrix(1.3 0 0 .6 1674 0)">A</text><text class="T" transform="matrix(1.54 0 0 2.3 1674 -6)">T</text><text class="T" transform="matrix(1.54 0 0 5 1688 0)">T</text><text class="C" transform="matrix(1.3 0 0 5 1702 0)">C</text><text class="C" transform="matrix(1.3 0 0 5 1716 0)">C</text><text class="G" transform="matrix(1.21 0 0 5 1730 0)">G</text><text class="A" transform="matrix(1.3 0 0 5 1745 0)">A</text><text class="A" transform="matrix(1.3 0 0 4.8 1759 0)">A</text><text class="A" transform="matrix(1.3 0 0 .6 1773 0)">A</text><text class="C" transform="matrix(1.3 0 0 1.6 1773 -6)">C</text><text class="C" transform="matrix(1.3 0 0 .4 1787 0)">C</text><text class="A" transform="matrix(1.3 0 0 1 1787 -4)">A</text><text class="A" transform="matrix(1.3 0 0 .5 1801 0)">A</text><text class="T" transform="matrix(1.54 0 0 .4 1815 0)">T</text><text class="A" transform="matrix(1.3 0 0 .5 1815 -4)">A</text><text class="C" transform="matrix(1.3 0 0 .4 1829 0)">C</text><text class="T" transform="matrix(1.54 0 0 .6 1829 -4)">T</text><text class="T" transform="matrix(1.54 0 0 .8 1843 0)">T</text><text class="A" transform="matrix(1.3 0 0 1.4 1843 -8)">A</text><text class="T" transform="matrix(1.54 0 0 .8 1857 0)">T</text><text class="A" transform="matrix(1.3 0 0 1.4 1857 -8)">A</text><text class="T" transform="matrix(1.54 0 0 .6 1871 0)">T</text><text class="A" transform="matrix(1.3 0 0 1.2 1871 -6)">A</text><text class="A" transform="matrix(1.3 0 0 .5 1886 0)">A</text>
</g>
<g id="logo-r11" transform="translate(0,747)">
<text class="A" transform="matrix(1.3 0 0 .6 1076 0)">A</text><text class="T" transform="matrix(1.54 0 0 .8 1090 0)">T</text><text class="C" transform="matrix(1.3 0 0 5 1105 0)">C</text><text class="A" transform="matrix(1.3 0 0 4.8 1119 0)">A</text><text class="C" transform="matrix(1.3 0 0 2.5 1133 0)">C</text><text class="G" transform="matrix(1.21 0 0 2 1147 0)">G</text><text class="T" transform="matrix(1.54 0 0 5 1162 0)">T</text><text class="G" transform="matrix(1.21 0 0 5 1176 0)">G</text>
<rect class="b3" x="1271" y="-50" width="6" height="50"/><rect class="b4" x="1272" y="-50" width="3" height="50"/><rect class="b1" x="1288" y="-50" width="9" height="50"/>
<text class="A" transform="matrix(1.3 0 0 .8 1533 0)">A</text><text class="T" transform="matrix(1.54 0 0 1 1533 -8)">T</text><text class="T" transform="matrix(1.54 0 0 .8 1547 0)">T</text><text class="A" transform="matrix(1.3 0 0 1.4 1547 -8)">A</text><text class="A" transform="matrix(1.3 0 0 .6 1561 0)">A</text><text class="T" transform="matrix(1.54 0 0 .8 1561 -6)">T</text><text class="A" transform="matrix(1.3 0 0 .4 1575 0)">A</text><text class="T" transform="matrix(1.54 0 0 .6 1575 -4)">T</text><text class="A" transform="matrix(1.3 0 0 .4 1589 0)">A</text><text class="T" transform="matrix(1.54 0 0 1.2 1589 -4)">T</text><text class="T" transform="matrix(1.54 0 0 .4 1604 0)">T</text><text class="A" transform="matrix(1.3 0 0 .8 1604 -4)">A</text><text class="A" transform="matrix(1.3 0 0 .4 1660 0)">A</text><text class="A" transform="matrix(1.3 0 0 .6 1674 0)">A</text><text class="T" transform="matrix(1.54 0 0 1 1674 -6)">T</text><text class="T" transform="matrix(1.54 0 0 5 1688 0)">T</text><text class="C" transform="matrix(1.3 0 0 5 1702 0)">C</text><text class="C" transform="matrix(1.3 0 0 5 1716 0)">C</text><text class="G" transform="matrix(1.21 0 0 5 1730 0)">G</text><text class="A" transform="matrix(1.3 0 0 4.8 1745 0)">A</text><text class="A" transform="matrix(1.3 0 0 4.6 1759 0)">A</text><text class="T" transform="matrix(1.54 0 0 .4 1773 0)">T</text><text class="C" transform="matrix(1.3 0 0 .8 1773 -4)">C</text><text class="A" transform="matrix(1.3 0 0 .4 1787 0)">A</text><text class="C" transform="matrix(1.3 0 0 .8 1787 -4)">C</text><text class="A" transform="matrix(1.3 0 0 .6 1815 0)">A</text><text class="T" transform="matrix(1.54 0 0 .6 1829 0)">T</text><text class="G" transform="matrix(1.21 0 0 1.2 1829 -6)">G</text><text class="T" transform="matrix(1.54 0 0 .8 1843 0)">T</text><text class="A" transform="matrix(1.3 0 0 1.6 1843 -8)">A</text><text class="T" transform="matrix(1.54 0 0 .8 1857 0)">T</text><text class="A" transform="matrix(1.3 0 0 1.4 1857 -8)">A</text><text class="A" transform="matrix(1.3 0 0 .8 1871 0)">A</text><text class="T" transform="matrix(1.54 0 0 1 1871 -8)">T</text><text class="C" transform="matrix(1.3 0 0 .4 1886 0)">C</text><text class="A" transform="matrix(1.3 0 0 .6 1886 -4)">A</text>
</g>
<g id="logo-r12" transform="translate(0,803)">
<text class="T" transform="matrix(1.54 0 0 .5 1090 0)">T</text><text class="C" transform="matrix(1.3 0 0 4.6 1105 0)">C</text><text class="A" transform="matrix(1.3 0 0 4.8 1119 0)">A</text><text class="C" transform="matrix(1.3 0 0 1.1 1133 0)">C</text><text class="A" transform="matrix(1.3 0 0 .8 1147 0)">A</text><text class="T" transform="matrix(1.54 0 0 4.4 1162 0)">T</text><text class="G" transform="matrix(1.21 0 0 4.4 1176 0)">G</text>
<rect class="b1" x="1347" y="-50" width="5" height="50"/><rect class="b3" x="1362" y="-50" width="5" height="50"/><rect class="b2" x="1377" y="-50" width="13" height="50"/>
<text class="A" transform="matrix(1.3 0 0 .4 1533 0)">A</text><text class="T" transform="matrix(1.54 0 0 .6 1547 0)">T</text><text class="A" transform="matrix(1.3 0 0 .8 1547 -6)">A</text><text class="T" transform="matrix(1.54 0 0 .6 1561 0)">T</text><text class="A" transform="matrix(1.3 0 0 .8 1561 -6)">A</text><text class="T" transform="matrix(1.54 0 0 .6 1575 0)">T</text><text class="A" transform="matrix(1.3 0 0 .6 1575 -6)">A</text><text class="A" transform="matrix(1.3 0 0 .4 1589 0)">A</text><text class="T" transform="matrix(1.54 0 0 1 1589 -4)">T</text><text class="A" transform="matrix(1.3 0 0 .4 1604 0)">A</text><text class="T" transform="matrix(1.54 0 0 1 1604 -4)">T</text><text class="A" transform="matrix(1.3 0 0 .4 1618 0)">A</text><text class="T" transform="matrix(1.54 0 0 .6 1618 -4)">T</text><text class="T" transform="matrix(1.54 0 0 .5 1632 0)">T</text><text class="A" transform="matrix(1.3 0 0 .5 1660 0)">A</text><text class="A" transform="matrix(1.3 0 0 .4 1674 0)">A</text><text class="T" transform="matrix(1.54 0 0 1 1674 -4)">T</text><text class="T" transform="matrix(1.54 0 0 4.6 1688 0)">T</text><text class="C" transform="matrix(1.3 0 0 5 1702 0)">C</text><text class="C" transform="matrix(1.3 0 0 5 1716 0)">C</text><text class="G" transform="matrix(1.21 0 0 5 1730 0)">G</text><text class="A" transform="matrix(1.3 0 0 4.8 1745 0)">A</text><text class="A" transform="matrix(1.3 0 0 4.5 1759 0)">A</text><text class="A" transform="matrix(1.3 0 0 .4 1773 0)">A</text><text class="C" transform="matrix(1.3 0 0 .8 1773 -4)">C</text><text class="C" transform="matrix(1.3 0 0 .4 1787 0)">C</text><text class="A" transform="matrix(1.3 0 0 .8 1787 -4)">A</text><text class="T" transform="matrix(1.54 0 0 .4 1801 0)">T</text><text class="T" transform="matrix(1.54 0 0 .6 1815 0)">T</text><text class="A" transform="matrix(1.3 0 0 1.4 1815 -6)">A</text><text class="A" transform="matrix(1.3 0 0 .5 1829 0)">A</text><text class="T" transform="matrix(1.54 0 0 .8 1843 0)">T</text><text class="A" transform="matrix(1.3 0 0 1.4 1843 -8)">A</text><text class="T" transform="matrix(1.54 0 0 .8 1857 0)">T</text><text class="A" transform="matrix(1.3 0 0 1.4 1857 -8)">A</text><text class="A" transform="matrix(1.3 0 0 .6 1871 0)">A</text><text class="T" transform="matrix(1.54 0 0 1.2 1871 -6)">T</text><text class="A" transform="matrix(1.3 0 0 .6 1886 0)">A</text>
</g>
<g id="logo-r14" transform="translate(0,915)">
<text class="A" transform="matrix(1.3 0 0 3.6 1076 0)">A</text><text class="T" transform="matrix(1.54 0 0 1 1090 0)">T</text><text class="C" transform="matrix(1.3 0 0 4.9 1105 0)">C</text><text class="A" transform="matrix(1.3 0 0 4.9 1119 0)">A</text><text class="C" transform="matrix(1.3 0 0 3.7 1133 0)">C</text><text class="T" transform="matrix(1.54 0 0 .5 1147 0)">T</text><text class="G" transform="matrix(1.21 0 0 2 1147 -5)">G</text><text class="T" transform="matrix(1.54 0 0 5 1162 0)">T</text><text class="G" transform="matrix(1.21 0 0 5 1176 0)">G</text>
<rect class="b3" x="1219" y="-50" width="7" height="50"/><rect class="b4" x="1221" y="-50" width="2" height="50"/>
<text class="T" transform="matrix(1.54 0 0 4.7 1533 0)">T</text><text class="G" transform="matrix(1.21 0 0 .8 1547 0)">G</text><text class="T" transform="matrix(1.54 0 0 1.4 1547 -8)">T</text><text class="T" transform="matrix(1.54 0 0 .6 1561 0)">T</text><text class="G" transform="matrix(1.21 0 0 1.6 1561 -6)">G</text><text class="G" transform="matrix(1.21 0 0 .4 1575 0)">G</text><text class="T" transform="matrix(1.54 0 0 .8 1575 -4)">T</text><text class="T" transform="matrix(1.54 0 0 .4 1589 0)">T</text><text class="A" transform="matrix(1.3 0 0 .4 1604 0)">A</text><text class="A" transform="matrix(1.3 0 0 .4 1618 0)">A</text><text class="T" transform="matrix(1.54 0 0 .6 1618 -4)">T</text><text class="C" transform="matrix(1.3 0 0 .4 1632 0)">C</text><text class="A" transform="matrix(1.3 0 0 .8 1632 -4)">A</text><text class="G" transform="matrix(1.21 0 0 .6 1646 0)">G</text><text class="C" transform="matrix(1.3 0 0 2.4 1646 -6)">C</text><text class="C" transform="matrix(1.3 0 0 .6 1660 0)">C</text><text class="G" transform="matrix(1.21 0 0 1.6 1660 -6)">G</text><text class="T" transform="matrix(1.54 0 0 .4 1674 0)">T</text><text class="C" transform="matrix(1.3 0 0 .8 1674 -4)">C</text><text class="T" transform="matrix(1.54 0 0 4.6 1688 0)">T</text><text class="C" transform="matrix(1.3 0 0 5 1702 0)">C</text><text class="C" transform="matrix(1.3 0 0 5 1716 0)">C</text><text class="G" transform="matrix(1.21 0 0 5 1730 0)">G</text><text class="A" transform="matrix(1.3 0 0 5 1745 0)">A</text><text class="A" transform="matrix(1.3 0 0 4.8 1759 0)">A</text><text class="C" transform="matrix(1.3 0 0 .5 1787 0)">C</text><text class="A" transform="matrix(1.3 0 0 .4 1801 0)">A</text><text class="A" transform="matrix(1.3 0 0 .4 1815 0)">A</text><text class="T" transform="matrix(1.54 0 0 .4 1829 0)">T</text><text class="A" transform="matrix(1.3 0 0 .8 1829 -4)">A</text><text class="A" transform="matrix(1.3 0 0 .5 1843 0)">A</text><text class="T" transform="matrix(1.54 0 0 .6 1857 0)">T</text><text class="A" transform="matrix(1.3 0 0 1.2 1857 -6)">A</text><text class="T" transform="matrix(1.54 0 0 .8 1871 0)">T</text><text class="A" transform="matrix(1.3 0 0 3 1871 -8)">A</text><text class="T" transform="matrix(1.54 0 0 .8 1886 0)">T</text><text class="A" transform="matrix(1.3 0 0 1.8 1886 -8)">A</text>
</g>
<g id="logo-r15" transform="translate(0,971)">
<text class="A" transform="matrix(1.3 0 0 .6 1076 0)">A</text><text class="T" transform="matrix(1.54 0 0 4.6 1090 0)">T</text><text class="C" transform="matrix(1.3 0 0 4.8 1105 0)">C</text><text class="A" transform="matrix(1.3 0 0 4.6 1119 0)">A</text><text class="C" transform="matrix(1.3 0 0 2.3 1133 0)">C</text><text class="G" transform="matrix(1.21 0 0 2 1147 0)">G</text><text class="T" transform="matrix(1.54 0 0 3.6 1162 0)">T</text><text class="G" transform="matrix(1.21 0 0 3.6 1176 0)">G</text>
<rect class="b5" x="1219" y="-50" width="4" height="50"/>
<text class="T" transform="matrix(1.54 0 0 4.8 1533 0)">T</text><text class="G" transform="matrix(1.21 0 0 4.2 1547 0)">G</text><text class="T" transform="matrix(1.54 0 0 4 1561 0)">T</text><text class="A" transform="matrix(1.3 0 0 .6 1575 0)">A</text><text class="G" transform="matrix(1.21 0 0 .8 1575 -6)">G</text><text class="C" transform="matrix(1.3 0 0 .6 1589 0)">C</text><text class="T" transform="matrix(1.54 0 0 1.8 1589 -6)">T</text><text class="C" transform="matrix(1.3 0 0 .4 1604 0)">C</text><text class="A" transform="matrix(1.3 0 0 2.2 1604 -4)">A</text><text class="T" transform="matrix(1.54 0 0 .4 1618 0)">T</text><text class="C" transform="matrix(1.3 0 0 3 1618 -4)">C</text><text class="T" transform="matrix(1.54 0 0 .4 1632 0)">T</text><text class="G" transform="matrix(1.21 0 0 2.4 1632 -4)">G</text><text class="T" transform="matrix(1.54 0 0 .5 1660 0)">T</text><text class="A" transform="matrix(1.3 0 0 .4 1674 0)">A</text><text class="T" transform="matrix(1.54 0 0 2 1674 -4)">T</text><text class="T" transform="matrix(1.54 0 0 .6 1688 0)">T</text><text class="C" transform="matrix(1.3 0 0 4.8 1702 0)">C</text><text class="C" transform="matrix(1.3 0 0 4.8 1716 0)">C</text><text class="G" transform="matrix(1.21 0 0 4.8 1730 0)">G</text><text class="A" transform="matrix(1.3 0 0 4.5 1745 0)">A</text><text class="A" transform="matrix(1.3 0 0 3.5 1759 0)">A</text><text class="C" transform="matrix(1.3 0 0 .4 1773 0)">C</text><text class="A" transform="matrix(1.3 0 0 1.2 1773 -4)">A</text><text class="A" transform="matrix(1.3 0 0 .4 1815 0)">A</text><text class="A" transform="matrix(1.3 0 0 .5 1829 0)">A</text><text class="T" transform="matrix(1.54 0 0 .4 1843 0)">T</text><text class="A" transform="matrix(1.3 0 0 .8 1843 -4)">A</text><text class="T" transform="matrix(1.54 0 0 .4 1857 0)">T</text><text class="A" transform="matrix(1.3 0 0 .8 1857 -4)">A</text><text class="A" transform="matrix(1.3 0 0 .6 1871 0)">A</text><text class="A" transform="matrix(1.3 0 0 .4 1886 0)">A</text>
</g>
<g id="logo-r16" transform="translate(0,1028)">
<text class="A" transform="matrix(1.3 0 0 1 1076 0)">A</text><text class="T" transform="matrix(1.54 0 0 2.6 1090 0)">T</text><text class="C" transform="matrix(1.3 0 0 5 1105 0)">C</text><text class="A" transform="matrix(1.3 0 0 4.8 1119 0)">A</text><text class="C" transform="matrix(1.3 0 0 2.6 1133 0)">C</text><text class="A" transform="matrix(1.3 0 0 .5 1147 0)">A</text><text class="G" transform="matrix(1.21 0 0 2.3 1147 -5)">G</text><text class="T" transform="matrix(1.54 0 0 5 1162 0)">T</text><text class="G" transform="matrix(1.21 0 0 5 1176 0)">G</text>
<rect class="b2" x="1217" y="-50" width="11" height="50"/><rect class="b3" x="1219" y="-50" width="5" height="50"/><rect class="b1" x="1240" y="-50" width="7" height="50"/>
<text class="T" transform="matrix(1.54 0 0 4.8 1533 0)">T</text><text class="G" transform="matrix(1.21 0 0 4.2 1547 0)">G</text><text class="T" transform="matrix(1.54 0 0 4 1561 0)">T</text><text class="A" transform="matrix(1.3 0 0 .4 1575 0)">A</text><text class="G" transform="matrix(1.21 0 0 .6 1575 -4)">G</text><text class="C" transform="matrix(1.3 0 0 .6 1589 0)">C</text><text class="T" transform="matrix(1.54 0 0 .8 1589 -6)">T</text><text class="G" transform="matrix(1.21 0 0 .5 1604 0)">G</text><text class="A" transform="matrix(1.3 0 0 1 1604 -5)">A</text><text class="C" transform="matrix(1.3 0 0 3.5 1618 0)">C</text><text class="G" transform="matrix(1.21 0 0 3.8 1632 0)">G</text><text class="T" transform="matrix(1.54 0 0 .4 1646 0)">T</text><text class="C" transform="matrix(1.3 0 0 .8 1646 -4)">C</text><text class="T" transform="matrix(1.54 0 0 .8 1660 0)">T</text><text class="T" transform="matrix(1.54 0 0 3.5 1674 0)">T</text><text class="A" transform="matrix(1.3 0 0 .8 1688 0)">A</text><text class="C" transform="matrix(1.3 0 0 4.8 1702 0)">C</text><text class="C" transform="matrix(1.3 0 0 4.8 1716 0)">C</text><text class="G" transform="matrix(1.21 0 0 4.8 1730 0)">G</text><text class="A" transform="matrix(1.3 0 0 4.5 1745 0)">A</text><text class="A" transform="matrix(1.3 0 0 4.5 1759 0)">A</text><text class="A" transform="matrix(1.3 0 0 .4 1815 0)">A</text><text class="A" transform="matrix(1.3 0 0 .4 1829 0)">A</text><text class="T" transform="matrix(1.54 0 0 .4 1843 0)">T</text><text class="A" transform="matrix(1.3 0 0 1 1843 -4)">A</text><text class="T" transform="matrix(1.54 0 0 .4 1857 0)">T</text><text class="A" transform="matrix(1.3 0 0 1 1857 -4)">A</text><text class="T" transform="matrix(1.54 0 0 .4 1871 0)">T</text><text class="A" transform="matrix(1.3 0 0 1 1871 -4)">A</text><text class="T" transform="matrix(1.54 0 0 .4 1886 0)">T</text><text class="A" transform="matrix(1.3 0 0 1 1886 -4)">A</text>
</g>
<g id="logo-r17" transform="translate(0,1085)">
<text class="T" transform="matrix(1.54 0 0 1.2 1090 0)">T</text><text class="C" transform="matrix(1.3 0 0 5 1105 0)">C</text><text class="A" transform="matrix(1.3 0 0 4.8 1119 0)">A</text><text class="C" transform="matrix(1.3 0 0 4.7 1133 0)">C</text><text class="G" transform="matrix(1.21 0 0 4.7 1147 0)">G</text><text class="T" transform="matrix(1.54 0 0 5 1162 0)">T</text><text class="G" transform="matrix(1.21 0 0 5 1176 0)">G</text>
<rect class="b4" x="1221" y="-50" width="6" height="50"/>
<text class="T" transform="matrix(1.54 0 0 4.8 1533 0)">T</text><text class="G" transform="matrix(1.21 0 0 4.4 1547 0)">G</text><text class="T" transform="matrix(1.54 0 0 4 1561 0)">T</text><text class="A" transform="matrix(1.3 0 0 .5 1575 0)">A</text><text class="G" transform="matrix(1.21 0 0 .6 1575 -5)">G</text><text class="C" transform="matrix(1.3 0 0 .4 1589 0)">C</text><text class="T" transform="matrix(1.54 0 0 1.6 1589 -4)">T</text><text class="C" transform="matrix(1.3 0 0 .4 1604 0)">C</text><text class="A" transform="matrix(1.3 0 0 1.8 1604 -4)">A</text><text class="G" transform="matrix(1.21 0 0 .4 1618 0)">G</text><text class="C" transform="matrix(1.3 0 0 2 1618 -4)">C</text><text class="G" transform="matrix(1.21 0 0 3.8 1632 0)">G</text><text class="C" transform="matrix(1.3 0 0 3.4 1646 0)">C</text><text class="G" transform="matrix(1.21 0 0 .4 1660 0)">G</text><text class="T" transform="matrix(1.54 0 0 .6 1660 -4)">T</text><text class="T" transform="matrix(1.54 0 0 4 1674 0)">T</text><text class="A" transform="matrix(1.3 0 0 1 1688 0)">A</text><text class="C" transform="matrix(1.3 0 0 4.8 1702 0)">C</text><text class="C" transform="matrix(1.3 0 0 4.8 1716 0)">C</text><text class="G" transform="matrix(1.21 0 0 4.8 1730 0)">G</text><text class="A" transform="matrix(1.3 0 0 4.8 1745 0)">A</text><text class="A" transform="matrix(1.3 0 0 4.6 1759 0)">A</text><text class="A" transform="matrix(1.3 0 0 .5 1787 0)">A</text><text class="A" transform="matrix(1.3 0 0 .4 1815 0)">A</text><text class="T" transform="matrix(1.54 0 0 .4 1829 0)">T</text><text class="A" transform="matrix(1.3 0 0 .8 1829 -4)">A</text><text class="A" transform="matrix(1.3 0 0 .4 1843 0)">A</text><text class="A" transform="matrix(1.3 0 0 .4 1857 0)">A</text><text class="T" transform="matrix(1.54 0 0 .6 1871 0)">T</text><text class="A" transform="matrix(1.3 0 0 1.4 1871 -6)">A</text><text class="T" transform="matrix(1.54 0 0 .6 1886 0)">T</text><text class="A" transform="matrix(1.3 0 0 1.4 1886 -6)">A</text>
</g>
<g id="logo-r18" transform="translate(0,1141)">
<text class="A" transform="matrix(1.3 0 0 3.3 1076 0)">A</text><text class="T" transform="matrix(1.54 0 0 1.2 1090 0)">T</text><text class="C" transform="matrix(1.3 0 0 5 1105 0)">C</text><text class="A" transform="matrix(1.3 0 0 4.8 1119 0)">A</text><text class="C" transform="matrix(1.3 0 0 2.6 1133 0)">C</text><text class="A" transform="matrix(1.3 0 0 .6 1147 0)">A</text><text class="G" transform="matrix(1.21 0 0 2 1147 -6)">G</text><text class="T" transform="matrix(1.54 0 0 5 1162 0)">T</text><text class="G" transform="matrix(1.21 0 0 5 1176 0)">G</text>
<rect class="b4" x="1223" y="-50" width="5" height="50"/><rect class="b5" x="1224" y="-50" width="2" height="50"/>
<text class="T" transform="matrix(1.54 0 0 4.8 1533 0)">T</text><text class="G" transform="matrix(1.21 0 0 4.4 1547 0)">G</text><text class="T" transform="matrix(1.54 0 0 4 1561 0)">T</text><text class="A" transform="matrix(1.3 0 0 .6 1575 0)">A</text><text class="G" transform="matrix(1.21 0 0 1 1575 -6)">G</text><text class="C" transform="matrix(1.3 0 0 .6 1589 0)">C</text><text class="T" transform="matrix(1.54 0 0 1.4 1589 -6)">T</text><text class="G" transform="matrix(1.21 0 0 .4 1604 0)">G</text><text class="A" transform="matrix(1.3 0 0 2.6 1604 -4)">A</text><text class="C" transform="matrix(1.3 0 0 4 1618 0)">C</text><text class="G" transform="matrix(1.21 0 0 4.2 1632 0)">G</text><text class="C" transform="matrix(1.3 0 0 4 1646 0)">C</text><text class="G" transform="matrix(1.21 0 0 .4 1660 0)">G</text><text class="T" transform="matrix(1.54 0 0 2.6 1674 0)">T</text><text class="A" transform="matrix(1.3 0 0 .6 1688 0)">A</text><text class="T" transform="matrix(1.54 0 0 1 1688 -6)">T</text><text class="C" transform="matrix(1.3 0 0 4.8 1702 0)">C</text><text class="C" transform="matrix(1.3 0 0 4.8 1716 0)">C</text><text class="G" transform="matrix(1.21 0 0 4.8 1730 0)">G</text><text class="A" transform="matrix(1.3 0 0 4.8 1745 0)">A</text><text class="A" transform="matrix(1.3 0 0 4.8 1759 0)">A</text><text class="C" transform="matrix(1.3 0 0 .4 1773 0)">C</text><text class="A" transform="matrix(1.3 0 0 1.2 1773 -4)">A</text><text class="A" transform="matrix(1.3 0 0 .4 1787 0)">A</text><text class="T" transform="matrix(1.54 0 0 .6 1787 -4)">T</text><text class="A" transform="matrix(1.3 0 0 .5 1801 0)">A</text><text class="A" transform="matrix(1.3 0 0 1.4 1843 0)">A</text><text class="A" transform="matrix(1.3 0 0 1.4 1857 0)">A</text><text class="A" transform="matrix(1.3 0 0 1.4 1871 0)">A</text>
</g>
<g id="logo-r19" transform="translate(0,1198)">
<text class="A" transform="matrix(1.3 0 0 1 1076 0)">A</text><text class="T" transform="matrix(1.54 0 0 1.4 1090 0)">T</text><text class="C" transform="matrix(1.3 0 0 5 1105 0)">C</text><text class="A" transform="matrix(1.3 0 0 4.8 1119 0)">A</text><text class="C" transform="matrix(1.3 0 0 2.5 1133 0)">C</text><text class="G" transform="matrix(1.21 0 0 1.8 1147 0)">G</text><text class="T" transform="matrix(1.54 0 0 5 1162 0)">T</text><text class="G" transform="matrix(1.21 0 0 5 1176 0)">G</text>
<rect class="b3" x="1220" y="-50" width="8" height="50"/><rect class="b4" x="1222" y="-50" width="3" height="50"/>
<text class="T" transform="matrix(1.54 0 0 4.8 1533 0)">T</text><text class="G" transform="matrix(1.21 0 0 4.4 1547 0)">G</text><text class="T" transform="matrix(1.54 0 0 4 1561 0)">T</text><text class="A" transform="matrix(1.3 0 0 .6 1575 0)">A</text><text class="G" transform="matrix(1.21 0 0 1 1575 -6)">G</text><text class="C" transform="matrix(1.3 0 0 .6 1589 0)">C</text><text class="T" transform="matrix(1.54 0 0 1.4 1589 -6)">T</text><text class="G" transform="matrix(1.21 0 0 .6 1604 0)">G</text><text class="A" transform="matrix(1.3 0 0 1.4 1604 -6)">A</text><text class="C" transform="matrix(1.3 0 0 2.8 1618 0)">C</text><text class="T" transform="matrix(1.54 0 0 .4 1632 0)">T</text><text class="G" transform="matrix(1.21 0 0 2.8 1632 -4)">G</text><text class="A" transform="matrix(1.3 0 0 .4 1646 0)">A</text><text class="C" transform="matrix(1.3 0 0 .8 1646 -4)">C</text><text class="A" transform="matrix(1.3 0 0 .4 1660 0)">A</text><text class="T" transform="matrix(1.54 0 0 .8 1660 -4)">T</text><text class="T" transform="matrix(1.54 0 0 3 1674 0)">T</text><text class="A" transform="matrix(1.3 0 0 .8 1688 0)">A</text><text class="C" transform="matrix(1.3 0 0 4.8 1702 0)">C</text><text class="C" transform="matrix(1.3 0 0 4.8 1716 0)">C</text><text class="G" transform="matrix(1.21 0 0 4.8 1730 0)">G</text><text class="A" transform="matrix(1.3 0 0 4.8 1745 0)">A</text><text class="A" transform="matrix(1.3 0 0 4.8 1759 0)">A</text><text class="A" transform="matrix(1.3 0 0 .4 1773 0)">A</text><text class="A" transform="matrix(1.3 0 0 .4 1829 0)">A</text><text class="T" transform="matrix(1.54 0 0 .4 1843 0)">T</text><text class="A" transform="matrix(1.3 0 0 .8 1843 -4)">A</text><text class="T" transform="matrix(1.54 0 0 .4 1857 0)">T</text><text class="A" transform="matrix(1.3 0 0 1.2 1857 -4)">A</text><text class="T" transform="matrix(1.54 0 0 .4 1871 0)">T</text><text class="A" transform="matrix(1.3 0 0 1 1871 -4)">A</text><text class="A" transform="matrix(1.3 0 0 .4 1886 0)">A</text>
</g>
<g id="logo-r20" transform="translate(0,1255)">
<text class="A" transform="matrix(1.3 0 0 .5 1076 0)">A</text><text class="T" transform="matrix(1.54 0 0 1.2 1090 0)">T</text><text class="C" transform="matrix(1.3 0 0 5 1105 0)">C</text><text class="A" transform="matrix(1.3 0 0 4.8 1119 0)">A</text><text class="C" transform="matrix(1.3 0 0 2.7 1133 0)">C</text><text class="G" transform="matrix(1.21 0 0 2 1147 0)">G</text><text class="T" transform="matrix(1.54 0 0 5 1162 0)">T</text><text class="G" transform="matrix(1.21 0 0 5 1176 0)">G</text>
<rect class="b5" x="1221" y="-50" width="4" height="50"/>
<text class="T" transform="matrix(1.54 0 0 4.8 1533 0)">T</text><text class="G" transform="matrix(1.21 0 0 4.6 1547 0)">G</text><text class="T" transform="matrix(1.54 0 0 4.4 1561 0)">T</text><text class="A" transform="matrix(1.3 0 0 .4 1589 0)">A</text><text class="T" transform="matrix(1.54 0 0 2 1589 -4)">T</text><text class="G" transform="matrix(1.21 0 0 .6 1604 0)">G</text><text class="A" transform="matrix(1.3 0 0 2.8 1604 -6)">A</text><text class="C" transform="matrix(1.3 0 0 4 1618 0)">C</text><text class="T" transform="matrix(1.54 0 0 .6 1632 0)">T</text><text class="G" transform="matrix(1.21 0 0 2.5 1632 -6)">G</text><text class="A" transform="matrix(1.3 0 0 .4 1646 0)">A</text><text class="C" transform="matrix(1.3 0 0 1.6 1646 -4)">C</text><text class="A" transform="matrix(1.3 0 0 .4 1660 0)">A</text><text class="T" transform="matrix(1.54 0 0 .6 1674 0)">T</text><text class="A" transform="matrix(1.3 0 0 .8 1674 -6)">A</text><text class="C" transform="matrix(1.3 0 0 .4 1688 0)">C</text><text class="A" transform="matrix(1.3 0 0 .4 1688 -4)">A</text><text class="C" transform="matrix(1.3 0 0 4.8 1702 0)">C</text><text class="C" transform="matrix(1.3 0 0 4.8 1716 0)">C</text><text class="G" transform="matrix(1.21 0 0 4.8 1730 0)">G</text><text class="A" transform="matrix(1.3 0 0 4.8 1745 0)">A</text><text class="A" transform="matrix(1.3 0 0 4.4 1759 0)">A</text><text class="A" transform="matrix(1.3 0 0 .6 1773 0)">A</text><text class="A" transform="matrix(1.3 0 0 .5 1801 0)">A</text><text class="T" transform="matrix(1.54 0 0 .4 1829 0)">T</text><text class="A" transform="matrix(1.3 0 0 .6 1829 -4)">A</text><text class="T" transform="matrix(1.54 0 0 .4 1843 0)">T</text><text class="A" transform="matrix(1.3 0 0 1 1843 -4)">A</text><text class="T" transform="matrix(1.54 0 0 .4 1857 0)">T</text><text class="A" transform="matrix(1.3 0 0 2 1857 -4)">A</text><text class="T" transform="matrix(1.54 0 0 .4 1886 0)">T</text><text class="A" transform="matrix(1.3 0 0 1.2 1886 -4)">A</text>
</g>
<g id="logo-r21" transform="translate(0,1311)">
<text class="T" transform="matrix(1.54 0 0 1.5 1090 0)">T</text><text class="C" transform="matrix(1.3 0 0 5 1105 0)">C</text><text class="A" transform="matrix(1.3 0 0 4.8 1119 0)">A</text><text class="C" transform="matrix(1.3 0 0 2.3 1133 0)">C</text><text class="G" transform="matrix(1.21 0 0 2 1147 0)">G</text><text class="T" transform="matrix(1.54 0 0 5 1162 0)">T</text><text class="G" transform="matrix(1.21 0 0 5 1176 0)">G</text>
<rect class="b4" x="1221" y="-50" width="5" height="50"/><rect class="b5" x="1222" y="-50" width="2" height="50"/>
<text class="T" transform="matrix(1.54 0 0 4.8 1533 0)">T</text><text class="G" transform="matrix(1.21 0 0 4.6 1547 0)">G</text><text class="T" transform="matrix(1.54 0 0 4.6 1561 0)">T</text><text class="G" transform="matrix(1.21 0 0 4 1575 0)">G</text><text class="T" transform="matrix(1.54 0 0 4.6 1589 0)">T</text><text class="A" transform="matrix(1.3 0 0 4.4 1604 0)">A</text><text class="C" transform="matrix(1.3 0 0 4.6 1618 0)">C</text><text class="G" transform="matrix(1.21 0 0 4 1632 0)">G</text><text class="C" transform="matrix(1.3 0 0 .6 1646 0)">C</text><text class="T" transform="matrix(1.54 0 0 4.2 1674 0)">T</text><text class="A" transform="matrix(1.3 0 0 .6 1688 0)">A</text><text class="T" transform="matrix(1.54 0 0 1.4 1688 -6)">T</text><text class="C" transform="matrix(1.3 0 0 4.8 1702 0)">C</text><text class="C" transform="matrix(1.3 0 0 4.8 1716 0)">C</text><text class="G" transform="matrix(1.21 0 0 4.8 1730 0)">G</text><text class="A" transform="matrix(1.3 0 0 4.6 1745 0)">A</text><text class="A" transform="matrix(1.3 0 0 4 1759 0)">A</text><text class="A" transform="matrix(1.3 0 0 .4 1773 0)">A</text><text class="A" transform="matrix(1.3 0 0 .4 1787 0)">A</text><text class="T" transform="matrix(1.54 0 0 .5 1829 0)">T</text><text class="T" transform="matrix(1.54 0 0 .4 1843 0)">T</text><text class="A" transform="matrix(1.3 0 0 1 1843 -4)">A</text><text class="T" transform="matrix(1.54 0 0 .4 1857 0)">T</text><text class="A" transform="matrix(1.3 0 0 1 1857 -4)">A</text><text class="T" transform="matrix(1.54 0 0 .4 1871 0)">T</text><text class="A" transform="matrix(1.3 0 0 1 1871 -4)">A</text><text class="A" transform="matrix(1.3 0 0 .4 1886 0)">A</text>
</g>
<g id="logo-r22" transform="translate(0,1368)">
<text class="A" transform="matrix(1.3 0 0 1.4 1076 0)">A</text><text class="T" transform="matrix(1.54 0 0 1 1090 0)">T</text><text class="C" transform="matrix(1.3 0 0 5 1105 0)">C</text><text class="A" transform="matrix(1.3 0 0 4.8 1119 0)">A</text><text class="C" transform="matrix(1.3 0 0 .5 1133 0)">C</text><text class="G" transform="matrix(1.21 0 0 .5 1147 0)">G</text><text class="T" transform="matrix(1.54 0 0 5 1162 0)">T</text><text class="G" transform="matrix(1.21 0 0 5 1176 0)">G</text>
<rect class="b5" x="1221" y="-50" width="4" height="50"/>
<text class="T" transform="matrix(1.54 0 0 2.8 1533 0)">T</text><text class="G" transform="matrix(1.21 0 0 4 1547 0)">G</text><text class="T" transform="matrix(1.54 0 0 3 1561 0)">T</text><text class="A" transform="matrix(1.3 0 0 .4 1575 0)">A</text><text class="G" transform="matrix(1.21 0 0 .6 1575 -4)">G</text><text class="C" transform="matrix(1.3 0 0 .4 1589 0)">C</text><text class="T" transform="matrix(1.54 0 0 1.2 1589 -4)">T</text><text class="A" transform="matrix(1.3 0 0 .6 1604 0)">A</text><text class="G" transform="matrix(1.21 0 0 .6 1604 -6)">G</text><text class="C" transform="matrix(1.3 0 0 4 1618 0)">C</text><text class="T" transform="matrix(1.54 0 0 .4 1632 0)">T</text><text class="G" transform="matrix(1.21 0 0 1.6 1632 -4)">G</text><text class="T" transform="matrix(1.54 0 0 .4 1646 0)">T</text><text class="A" transform="matrix(1.3 0 0 .4 1660 0)">A</text><text class="A" transform="matrix(1.3 0 0 .5 1674 0)">A</text><text class="A" transform="matrix(1.3 0 0 .4 1688 0)">A</text><text class="T" transform="matrix(1.54 0 0 .6 1688 -4)">T</text><text class="C" transform="matrix(1.3 0 0 4.8 1702 0)">C</text><text class="C" transform="matrix(1.3 0 0 4.8 1716 0)">C</text><text class="G" transform="matrix(1.21 0 0 4.8 1730 0)">G</text><text class="A" transform="matrix(1.3 0 0 4.4 1745 0)">A</text><text class="A" transform="matrix(1.3 0 0 3.8 1759 0)">A</text><text class="A" transform="matrix(1.3 0 0 .4 1773 0)">A</text><text class="C" transform="matrix(1.3 0 0 .5 1773 -4)">C</text><text class="A" transform="matrix(1.3 0 0 .4 1787 0)">A</text><text class="T" transform="matrix(1.54 0 0 .4 1815 0)">T</text><text class="A" transform="matrix(1.3 0 0 .8 1815 -4)">A</text><text class="T" transform="matrix(1.54 0 0 .6 1857 0)">T</text><text class="A" transform="matrix(1.3 0 0 1.4 1857 -6)">A</text><text class="T" transform="matrix(1.54 0 0 .6 1871 0)">T</text><text class="A" transform="matrix(1.3 0 0 1 1871 -6)">A</text><text class="T" transform="matrix(1.54 0 0 .6 1886 0)">T</text><text class="A" transform="matrix(1.3 0 0 1.8 1886 -6)">A</text>
</g>
<g id="logo-r23" transform="translate(0,1425)">
<text class="A" transform="matrix(1.3 0 0 .8 1076 0)">A</text><text class="T" transform="matrix(1.54 0 0 4.6 1090 0)">T</text><text class="C" transform="matrix(1.3 0 0 5 1105 0)">C</text><text class="A" transform="matrix(1.3 0 0 4.8 1119 0)">A</text><text class="T" transform="matrix(1.54 0 0 .8 1133 0)">T</text><text class="G" transform="matrix(1.21 0 0 1.2 1147 0)">G</text><text class="T" transform="matrix(1.54 0 0 5 1162 0)">T</text><text class="G" transform="matrix(1.21 0 0 5 1176 0)">G</text>
<rect class="b1" x="1213" y="-50" width="18" height="50"/><rect class="b5" x="1221" y="-50" width="3" height="50"/>
<text class="T" transform="matrix(1.54 0 0 4.5 1533 0)">T</text><text class="G" transform="matrix(1.21 0 0 3.2 1547 0)">G</text><text class="G" transform="matrix(1.21 0 0 .4 1561 0)">G</text><text class="T" transform="matrix(1.54 0 0 .8 1561 -4)">T</text><text class="T" transform="matrix(1.54 0 0 .4 1575 0)">T</text><text class="T" transform="matrix(1.54 0 0 3.8 1589 0)">T</text><text class="G" transform="matrix(1.21 0 0 .6 1604 0)">G</text><text class="A" transform="matrix(1.3 0 0 .6 1604 -6)">A</text><text class="A" transform="matrix(1.3 0 0 .4 1618 0)">A</text><text class="T" transform="matrix(1.54 0 0 .6 1618 -4)">T</text><text class="G" transform="matrix(1.21 0 0 3.4 1632 0)">G</text><text class="A" transform="matrix(1.3 0 0 .4 1646 0)">A</text><text class="A" transform="matrix(1.3 0 0 .5 1660 0)">A</text><text class="A" transform="matrix(1.3 0 0 3 1674 0)">A</text><text class="A" transform="matrix(1.3 0 0 1 1688 0)">A</text><text class="T" transform="matrix(1.54 0 0 .5 1716 0)">T</text><text class="T" transform="matrix(1.54 0 0 .5 1730 0)">T</text><text class="A" transform="matrix(1.3 0 0 .4 1759 0)">A</text><text class="A" transform="matrix(1.3 0 0 .8 1773 0)">A</text><text class="A" transform="matrix(1.3 0 0 .4 1787 0)">A</text><text class="A" transform="matrix(1.3 0 0 .6 1801 0)">A</text><text class="A" transform="matrix(1.3 0 0 .6 1815 0)">A</text><text class="T" transform="matrix(1.54 0 0 1.4 1815 -6)">T</text><text class="T" transform="matrix(1.54 0 0 .6 1829 0)">T</text><text class="A" transform="matrix(1.3 0 0 1.4 1829 -6)">A</text><text class="T" transform="matrix(1.54 0 0 .8 1843 0)">T</text><text class="A" transform="matrix(1.3 0 0 1 1843 -8)">A</text><text class="A" transform="matrix(1.3 0 0 .6 1857 0)">A</text><text class="T" transform="matrix(1.54 0 0 .8 1857 -6)">T</text><text class="A" transform="matrix(1.3 0 0 .5 1871 0)">A</text><text class="A" transform="matrix(1.3 0 0 .4 1886 0)">A</text>
</g>
<g id="logo-r24" transform="translate(0,1481)">
<text class="A" transform="matrix(1.3 0 0 3.3 1076 0)">A</text><text class="T" transform="matrix(1.54 0 0 4.6 1090 0)">T</text><text class="C" transform="matrix(1.3 0 0 5 1105 0)">C</text><text class="A" transform="matrix(1.3 0 0 4.8 1119 0)">A</text><text class="C" transform="matrix(1.3 0 0 1 1133 0)">C</text><text class="A" transform="matrix(1.3 0 0 1.2 1147 0)">A</text><text class="T" transform="matrix(1.54 0 0 5 1162 0)">T</text><text class="G" transform="matrix(1.21 0 0 5 1176 0)">G</text>
<rect class="b3" x="1218" y="-50" width="8" height="50"/><rect class="b4" x="1220" y="-50" width="3" height="50"/>
<text class="T" transform="matrix(1.54 0 0 4.5 1533 0)">T</text><text class="G" transform="matrix(1.21 0 0 3.5 1547 0)">G</text><text class="A" transform="matrix(1.3 0 0 .4 1561 0)">A</text><text class="T" transform="matrix(1.54 0 0 .8 1561 -4)">T</text><text class="A" transform="matrix(1.3 0 0 .4 1575 0)">A</text><text class="C" transform="matrix(1.3 0 0 .4 1589 0)">C</text><text class="T" transform="matrix(1.54 0 0 1.6 1589 -4)">T</text><text class="A" transform="matrix(1.3 0 0 .4 1604 0)">A</text><text class="G" transform="matrix(1.21 0 0 1 1604 -4)">G</text><text class="T" transform="matrix(1.54 0 0 3.2 1618 0)">T</text><text class="G" transform="matrix(1.21 0 0 4.2 1632 0)">G</text><text class="C" transform="matrix(1.3 0 0 1 1646 0)">C</text><text class="T" transform="matrix(1.54 0 0 3 1660 0)">T</text><text class="T" transform="matrix(1.54 0 0 3.5 1674 0)">T</text><text class="A" transform="matrix(1.3 0 0 2 1688 0)">A</text><text class="C" transform="matrix(1.3 0 0 4.4 1702 0)">C</text><text class="C" transform="matrix(1.3 0 0 4.8 1716 0)">C</text><text class="G" transform="matrix(1.21 0 0 4.2 1730 0)">G</text><text class="G" transform="matrix(1.21 0 0 .5 1745 0)">G</text><text class="A" transform="matrix(1.3 0 0 2 1745 -5)">A</text><text class="A" transform="matrix(1.3 0 0 1.6 1759 0)">A</text><text class="A" transform="matrix(1.3 0 0 .4 1773 0)">A</text><text class="A" transform="matrix(1.3 0 0 .4 1801 0)">A</text><text class="A" transform="matrix(1.3 0 0 .4 1815 0)">A</text><text class="G" transform="matrix(1.21 0 0 .8 1815 -4)">G</text><text class="A" transform="matrix(1.3 0 0 .4 1829 0)">A</text><text class="T" transform="matrix(1.54 0 0 1.8 1829 -4)">T</text><text class="T" transform="matrix(1.54 0 0 .4 1843 0)">T</text><text class="A" transform="matrix(1.3 0 0 1.6 1843 -4)">A</text><text class="A" transform="matrix(1.3 0 0 .6 1857 0)">A</text><text class="T" transform="matrix(1.54 0 0 1.4 1857 -6)">T</text>
</g>
<g id="logo-r25" transform="translate(0,1538)">
<text class="T" transform="matrix(1.54 0 0 1 1090 0)">T</text><text class="C" transform="matrix(1.3 0 0 3.6 1105 0)">C</text><text class="A" transform="matrix(1.3 0 0 2.3 1119 0)">A</text><text class="C" transform="matrix(1.3 0 0 2.3 1133 0)">C</text><text class="A" transform="matrix(1.3 0 0 .6 1147 0)">A</text><text class="G" transform="matrix(1.21 0 0 1.6 1147 -6)">G</text><text class="T" transform="matrix(1.54 0 0 5 1162 0)">T</text><text class="G" transform="matrix(1.21 0 0 5 1176 0)">G</text>
<rect class="b5" x="1221" y="-50" width="3" height="50"/>
<text class="T" transform="matrix(1.54 0 0 3.5 1533 0)">T</text><text class="A" transform="matrix(1.3 0 0 .4 1547 0)">A</text><text class="G" transform="matrix(1.21 0 0 2 1547 -4)">G</text><text class="G" transform="matrix(1.21 0 0 .4 1561 0)">G</text><text class="T" transform="matrix(1.54 0 0 1.6 1561 -4)">T</text><text class="T" transform="matrix(1.54 0 0 .6 1575 0)">T</text><text class="A" transform="matrix(1.3 0 0 .4 1589 0)">A</text><text class="T" transform="matrix(1.54 0 0 1.8 1589 -4)">T</text><text class="A" transform="matrix(1.3 0 0 .4 1604 0)">A</text><text class="G" transform="matrix(1.21 0 0 3.8 1632 0)">G</text><text class="A" transform="matrix(1.3 0 0 .4 1660 0)">A</text><text class="T" transform="matrix(1.54 0 0 2 1660 -4)">T</text><text class="A" transform="matrix(1.3 0 0 .6 1674 0)">A</text><text class="T" transform="matrix(1.54 0 0 2.2 1674 -6)">T</text><text class="A" transform="matrix(1.3 0 0 3.4 1688 0)">A</text><text class="A" transform="matrix(1.3 0 0 .4 1702 0)">A</text><text class="C" transform="matrix(1.3 0 0 1.8 1702 -4)">C</text><text class="C" transform="matrix(1.3 0 0 4.8 1716 0)">C</text><text class="G" transform="matrix(1.21 0 0 4.4 1730 0)">G</text><text class="A" transform="matrix(1.3 0 0 3.4 1745 0)">A</text><text class="A" transform="matrix(1.3 0 0 3 1759 0)">A</text><text class="A" transform="matrix(1.3 0 0 .6 1773 0)">A</text><text class="A" transform="matrix(1.3 0 0 .4 1829 0)">A</text><text class="T" transform="matrix(1.54 0 0 .4 1843 0)">T</text><text class="A" transform="matrix(1.3 0 0 .6 1843 -4)">A</text><text class="T" transform="matrix(1.54 0 0 .4 1857 0)">T</text><text class="A" transform="matrix(1.3 0 0 1 1857 -4)">A</text><text class="T" transform="matrix(1.54 0 0 .4 1871 0)">T</text><text class="A" transform="matrix(1.3 0 0 1 1871 -4)">A</text><text class="T" transform="matrix(1.54 0 0 .4 1886 0)">T</text><text class="A" transform="matrix(1.3 0 0 1.2 1886 -4)">A</text>
</g>
<g id="logo-r26" transform="translate(0,1595)">
<text class="A" transform="matrix(1.3 0 0 2.3 1076 0)">A</text><text class="T" transform="matrix(1.54 0 0 4.3 1090 0)">T</text><text class="C" transform="matrix(1.3 0 0 4.8 1105 0)">C</text><text class="A" transform="matrix(1.3 0 0 4.6 1119 0)">A</text><text class="T" transform="matrix(1.54 0 0 .5 1133 0)">T</text><text class="G" transform="matrix(1.21 0 0 .5 1147 0)">G</text><text class="T" transform="matrix(1.54 0 0 5 1162 0)">T</text><text class="G" transform="matrix(1.21 0 0 5 1176 0)">G</text>
<rect class="b4" x="1221" y="-50" width="5" height="50"/><rect class="b1" x="1246" y="-50" width="2" height="50"/>
<text class="A" transform="matrix(1.3 0 0 .4 1533 0)">A</text><text class="T" transform="matrix(1.54 0 0 2.4 1533 -4)">T</text><text class="A" transform="matrix(1.3 0 0 2.4 1547 0)">A</text><text class="T" transform="matrix(1.54 0 0 3.4 1561 0)">T</text><text class="T" transform="matrix(1.54 0 0 4 1575 0)">T</text><text class="T" transform="matrix(1.54 0 0 4 1589 0)">T</text><text class="A" transform="matrix(1.3 0 0 .4 1604 0)">A</text><text class="T" transform="matrix(1.54 0 0 .6 1604 -4)">T</text><text class="A" transform="matrix(1.3 0 0 .4 1618 0)">A</text><text class="A" transform="matrix(1.3 0 0 .5 1632 0)">A</text><text class="A" transform="matrix(1.3 0 0 .4 1646 0)">A</text><text class="T" transform="matrix(1.54 0 0 1 1646 -4)">T</text><text class="A" transform="matrix(1.3 0 0 .4 1660 0)">A</text><text class="T" transform="matrix(1.54 0 0 1.6 1660 -4)">T</text><text class="A" transform="matrix(1.3 0 0 .4 1674 0)">A</text><text class="T" transform="matrix(1.54 0 0 2 1674 -4)">T</text><text class="A" transform="matrix(1.3 0 0 .4 1688 0)">A</text><text class="T" transform="matrix(1.54 0 0 2.8 1688 -4)">T</text><text class="C" transform="matrix(1.3 0 0 4.8 1702 0)">C</text><text class="C" transform="matrix(1.3 0 0 4 1716 0)">C</text><text class="A" transform="matrix(1.3 0 0 .4 1730 0)">A</text><text class="G" transform="matrix(1.21 0 0 1 1730 -4)">G</text><text class="A" transform="matrix(1.3 0 0 .8 1745 0)">A</text><text class="A" transform="matrix(1.3 0 0 .8 1759 0)">A</text><text class="A" transform="matrix(1.3 0 0 .5 1773 0)">A</text><text class="A" transform="matrix(1.3 0 0 .5 1787 0)">A</text><text class="A" transform="matrix(1.3 0 0 .4 1801 0)">A</text><text class="T" transform="matrix(1.54 0 0 .8 1801 -4)">T</text><text class="A" transform="matrix(1.3 0 0 .5 1815 0)">A</text><text class="T" transform="matrix(1.54 0 0 1 1815 -5)">T</text><text class="T" transform="matrix(1.54 0 0 .4 1829 0)">T</text><text class="A" transform="matrix(1.3 0 0 1.2 1829 -4)">A</text><text class="T" transform="matrix(1.54 0 0 .4 1843 0)">T</text><text class="A" transform="matrix(1.3 0 0 1.4 1843 -4)">A</text><text class="A" transform="matrix(1.3 0 0 .6 1857 0)">A</text><text class="T" transform="matrix(1.54 0 0 .6 1857 -6)">T</text><text class="T" transform="matrix(1.54 0 0 .4 1871 0)">T</text><text class="A" transform="matrix(1.3 0 0 1 1871 -4)">A</text><text class="A" transform="matrix(1.3 0 0 .4 1886 0)">A</text>
</g>
<g id="logo-r27" transform="translate(0,1651)">
<text class="A" transform="matrix(1.3 0 0 .6 1076 0)">A</text><text class="T" transform="matrix(1.54 0 0 1.2 1090 0)">T</text><text class="C" transform="matrix(1.3 0 0 4.8 1105 0)">C</text><text class="A" transform="matrix(1.3 0 0 4.6 1119 0)">A</text><text class="C" transform="matrix(1.3 0 0 3.3 1133 0)">C</text><text class="A" transform="matrix(1.3 0 0 1.2 1147 0)">A</text><text class="T" transform="matrix(1.54 0 0 5 1162 0)">T</text><text class="G" transform="matrix(1.21 0 0 5 1176 0)">G</text>
<rect class="b1" x="1217" y="-50" width="12" height="50"/><rect class="b3" x="1219" y="-50" width="7" height="50"/><rect class="b4" x="1221" y="-50" width="3" height="50"/>
<text class="A" transform="matrix(1.3 0 0 .4 1533 0)">A</text><text class="T" transform="matrix(1.54 0 0 2 1533 -4)">T</text><text class="A" transform="matrix(1.3 0 0 3.4 1547 0)">A</text><text class="T" transform="matrix(1.54 0 0 4 1561 0)">T</text><text class="A" transform="matrix(1.3 0 0 .8 1575 0)">A</text><text class="T" transform="matrix(1.54 0 0 1.8 1575 -8)">T</text><text class="T" transform="matrix(1.54 0 0 4 1589 0)">T</text><text class="T" transform="matrix(1.54 0 0 4 1604 0)">T</text><text class="A" transform="matrix(1.3 0 0 .4 1618 0)">A</text><text class="T" transform="matrix(1.54 0 0 1.4 1618 -4)">T</text><text class="A" transform="matrix(1.3 0 0 .4 1632 0)">A</text><text class="A" transform="matrix(1.3 0 0 2 1632 -4)">A</text><text class="A" transform="matrix(1.3 0 0 .6 1646 0)">A</text><text class="T" transform="matrix(1.54 0 0 1.4 1646 -6)">T</text><text class="A" transform="matrix(1.3 0 0 .4 1660 0)">A</text><text class="T" transform="matrix(1.54 0 0 2.8 1660 -4)">T</text><text class="A" transform="matrix(1.3 0 0 .6 1674 0)">A</text><text class="T" transform="matrix(1.54 0 0 2 1674 -6)">T</text><text class="T" transform="matrix(1.54 0 0 4 1688 0)">T</text><text class="C" transform="matrix(1.3 0 0 4.6 1702 0)">C</text><text class="C" transform="matrix(1.3 0 0 4.2 1716 0)">C</text><text class="G" transform="matrix(1.21 0 0 1.4 1730 0)">G</text><text class="A" transform="matrix(1.3 0 0 .4 1745 0)">A</text><text class="A" transform="matrix(1.3 0 0 .4 1759 0)">A</text><text class="A" transform="matrix(1.3 0 0 .4 1773 0)">A</text><text class="A" transform="matrix(1.3 0 0 .4 1787 0)">A</text><text class="T" transform="matrix(1.54 0 0 1.4 1787 -4)">T</text><text class="A" transform="matrix(1.3 0 0 .4 1801 0)">A</text><text class="T" transform="matrix(1.54 0 0 .6 1801 -4)">T</text><text class="T" transform="matrix(1.54 0 0 .4 1815 0)">T</text><text class="A" transform="matrix(1.3 0 0 1.4 1815 -4)">A</text><text class="A" transform="matrix(1.3 0 0 .6 1829 0)">A</text><text class="T" transform="matrix(1.54 0 0 1.4 1829 -6)">T</text><text class="A" transform="matrix(1.3 0 0 .4 1843 0)">A</text><text class="T" transform="matrix(1.54 0 0 .6 1843 -4)">T</text><text class="T" transform="matrix(1.54 0 0 .4 1857 0)">T</text><text class="A" transform="matrix(1.3 0 0 1.2 1857 -4)">A</text><text class="A" transform="matrix(1.3 0 0 .4 1871 0)">A</text><text class="T" transform="matrix(1.54 0 0 1.4 1871 -4)">T</text><text class="A" transform="matrix(1.3 0 0 .4 1886 0)">A</text><text class="T" transform="matrix(1.54 0 0 1.4 1886 -4)">T</text>
</g>
<g id="logo-r28" transform="translate(0,1708)">
<text class="A" transform="matrix(1.3 0 0 3.3 1076 0)">A</text><text class="T" transform="matrix(1.54 0 0 3 1090 0)">T</text><text class="C" transform="matrix(1.3 0 0 5 1105 0)">C</text><text class="A" transform="matrix(1.3 0 0 4.8 1119 0)">A</text><text class="C" transform="matrix(1.3 0 0 4.6 1133 0)">C</text><text class="A" transform="matrix(1.3 0 0 1.2 1147 0)">A</text><text class="T" transform="matrix(1.54 0 0 4.3 1162 0)">T</text><text class="G" transform="matrix(1.21 0 0 3 1176 0)">G</text>
<rect class="b1" x="1350" y="-50" width="3" height="50"/><rect class="b3" x="1366" y="-50" width="8" height="50"/><rect class="b4" x="1368" y="-50" width="3" height="50"/>
<text class="T" transform="matrix(1.54 0 0 3.6 1533 0)">T</text><text class="A" transform="matrix(1.3 0 0 .4 1547 0)">A</text><text class="G" transform="matrix(1.21 0 0 2.5 1547 -4)">G</text><text class="T" transform="matrix(1.54 0 0 .6 1561 0)">T</text><text class="G" transform="matrix(1.21 0 0 1.4 1561 -6)">G</text><text class="A" transform="matrix(1.3 0 0 .4 1575 0)">A</text><text class="T" transform="matrix(1.54 0 0 1.4 1575 -4)">T</text><text class="T" transform="matrix(1.54 0 0 4.5 1589 0)">T</text><text class="A" transform="matrix(1.3 0 0 .4 1604 0)">A</text><text class="T" transform="matrix(1.54 0 0 1 1604 -4)">T</text><text class="A" transform="matrix(1.3 0 0 .6 1618 0)">A</text><text class="T" transform="matrix(1.54 0 0 1.2 1618 -6)">T</text><text class="T" transform="matrix(1.54 0 0 .4 1632 0)">T</text><text class="G" transform="matrix(1.21 0 0 .5 1632 -4)">G</text><text class="T" transform="matrix(1.54 0 0 .6 1660 0)">T</text><text class="T" transform="matrix(1.54 0 0 4.4 1674 0)">T</text><text class="T" transform="matrix(1.54 0 0 4.8 1688 0)">T</text><text class="C" transform="matrix(1.3 0 0 4.8 1702 0)">C</text><text class="C" transform="matrix(1.3 0 0 4.8 1716 0)">C</text><text class="G" transform="matrix(1.21 0 0 4.8 1730 0)">G</text><text class="A" transform="matrix(1.3 0 0 4.8 1745 0)">A</text><text class="A" transform="matrix(1.3 0 0 4.8 1759 0)">A</text><text class="A" transform="matrix(1.3 0 0 .4 1787 0)">A</text><text class="A" transform="matrix(1.3 0 0 1 1787 -4)">A</text><text class="C" transform="matrix(1.3 0 0 .4 1801 0)">C</text><text class="A" transform="matrix(1.3 0 0 .8 1801 -4)">A</text><text class="T" transform="matrix(1.54 0 0 .6 1843 0)">T</text><text class="A" transform="matrix(1.3 0 0 1.6 1843 -6)">A</text><text class="T" transform="matrix(1.54 0 0 .6 1857 0)">T</text><text class="A" transform="matrix(1.3 0 0 1.4 1857 -6)">A</text><text class="T" transform="matrix(1.54 0 0 .4 1871 0)">T</text><text class="A" transform="matrix(1.3 0 0 .6 1871 -4)">A</text><text class="A" transform="matrix(1.3 0 0 .5 1886 0)">A</text>
</g>
<g id="logo-r29" transform="translate(0,1765)">
<text class="A" transform="matrix(1.3 0 0 3 1076 0)">A</text><text class="T" transform="matrix(1.54 0 0 5 1090 0)">T</text><text class="C" transform="matrix(1.3 0 0 5 1105 0)">C</text><text class="A" transform="matrix(1.3 0 0 4.8 1119 0)">A</text><text class="C" transform="matrix(1.3 0 0 4.8 1133 0)">C</text><text class="A" transform="matrix(1.3 0 0 .8 1147 0)">A</text><text class="G" transform="matrix(1.21 0 0 1.2 1147 -8)">G</text><text class="T" transform="matrix(1.54 0 0 5 1162 0)">T</text><text class="G" transform="matrix(1.21 0 0 5 1176 0)">G</text>
<rect class="b4" x="1290" y="-50" width="5" height="50"/>
<text class="A" transform="matrix(1.3 0 0 .6 1533 0)">A</text><text class="T" transform="matrix(1.54 0 0 1.6 1533 -6)">T</text><text class="A" transform="matrix(1.3 0 0 .6 1547 0)">A</text><text class="G" transform="matrix(1.21 0 0 2 1547 -6)">G</text><text class="G" transform="matrix(1.21 0 0 .5 1561 0)">G</text><text class="T" transform="matrix(1.54 0 0 1.2 1561 -5)">T</text><text class="A" transform="matrix(1.3 0 0 .4 1589 0)">A</text><text class="T" transform="matrix(1.54 0 0 1.8 1589 -4)">T</text><text class="A" transform="matrix(1.3 0 0 .4 1660 0)">A</text><text class="T" transform="matrix(1.54 0 0 3.6 1660 -4)">T</text><text class="T" transform="matrix(1.54 0 0 .8 1674 0)">T</text><text class="C" transform="matrix(1.3 0 0 1 1674 -8)">C</text><text class="T" transform="matrix(1.54 0 0 4.8 1688 0)">T</text><text class="C" transform="matrix(1.3 0 0 4.8 1702 0)">C</text><text class="C" transform="matrix(1.3 0 0 4.8 1716 0)">C</text><text class="G" transform="matrix(1.21 0 0 4.8 1730 0)">G</text><text class="A" transform="matrix(1.3 0 0 4.8 1745 0)">A</text><text class="A" transform="matrix(1.3 0 0 4.4 1759 0)">A</text><text class="A" transform="matrix(1.3 0 0 .6 1773 0)">A</text><text class="A" transform="matrix(1.3 0 0 .8 1815 0)">A</text><text class="A" transform="matrix(1.3 0 0 .4 1829 0)">A</text><text class="A" transform="matrix(1.3 0 0 1.4 1829 -4)">A</text><text class="T" transform="matrix(1.54 0 0 .4 1843 0)">T</text><text class="A" transform="matrix(1.3 0 0 1.6 1843 -4)">A</text><text class="A" transform="matrix(1.3 0 0 .6 1857 0)">A</text><text class="T" transform="matrix(1.54 0 0 1.6 1857 -6)">T</text><text class="A" transform="matrix(1.3 0 0 .6 1871 0)">A</text><text class="T" transform="matrix(1.54 0 0 1.4 1871 -6)">T</text><text class="A" transform="matrix(1.3 0 0 .6 1886 0)">A</text><text class="T" transform="matrix(1.54 0 0 1.6 1886 -6)">T</text>
</g>
<g id="logo-r30" transform="translate(0,1821)">
<text class="A" transform="matrix(1.3 0 0 1 1076 0)">A</text><text class="T" transform="matrix(1.54 0 0 3 1090 0)">T</text><text class="C" transform="matrix(1.3 0 0 5 1105 0)">C</text><text class="A" transform="matrix(1.3 0 0 4.8 1119 0)">A</text><text class="T" transform="matrix(1.54 0 0 1.2 1133 0)">T</text><text class="G" transform="matrix(1.21 0 0 1.2 1147 0)">G</text><text class="T" transform="matrix(1.54 0 0 5 1162 0)">T</text><text class="G" transform="matrix(1.21 0 0 5 1176 0)">G</text>
<rect class="b3" x="1274" y="-50" width="7" height="50"/><rect class="b4" x="1276" y="-50" width="3" height="50"/>
<text class="A" transform="matrix(1.3 0 0 .4 1533 0)">A</text><text class="T" transform="matrix(1.54 0 0 .6 1533 -4)">T</text><text class="G" transform="matrix(1.21 0 0 4.2 1547 0)">G</text><text class="G" transform="matrix(1.21 0 0 3 1561 0)">G</text><text class="A" transform="matrix(1.3 0 0 .4 1575 0)">A</text><text class="G" transform="matrix(1.21 0 0 .8 1575 -4)">G</text><text class="A" transform="matrix(1.3 0 0 .4 1589 0)">A</text><text class="T" transform="matrix(1.54 0 0 1.4 1589 -4)">T</text><text class="A" transform="matrix(1.3 0 0 .4 1604 0)">A</text><text class="T" transform="matrix(1.54 0 0 1 1604 -4)">T</text><text class="A" transform="matrix(1.3 0 0 .4 1618 0)">A</text><text class="T" transform="matrix(1.54 0 0 1.4 1618 -4)">T</text><text class="G" transform="matrix(1.21 0 0 2.4 1632 0)">G</text><text class="T" transform="matrix(1.54 0 0 3.8 1674 0)">T</text><text class="T" transform="matrix(1.54 0 0 4.4 1688 0)">T</text><text class="C" transform="matrix(1.3 0 0 4.8 1702 0)">C</text><text class="C" transform="matrix(1.3 0 0 4.8 1716 0)">C</text><text class="G" transform="matrix(1.21 0 0 4.8 1730 0)">G</text><text class="A" transform="matrix(1.3 0 0 4.8 1745 0)">A</text><text class="A" transform="matrix(1.3 0 0 4.4 1759 0)">A</text><text class="A" transform="matrix(1.3 0 0 .4 1773 0)">A</text><text class="C" transform="matrix(1.3 0 0 .6 1773 -4)">C</text><text class="A" transform="matrix(1.3 0 0 .4 1787 0)">A</text><text class="G" transform="matrix(1.21 0 0 .4 1829 0)">G</text><text class="A" transform="matrix(1.3 0 0 .4 1829 -4)">A</text><text class="A" transform="matrix(1.3 0 0 .6 1843 0)">A</text><text class="T" transform="matrix(1.54 0 0 .6 1857 0)">T</text><text class="A" transform="matrix(1.3 0 0 1.6 1857 -6)">A</text><text class="T" transform="matrix(1.54 0 0 .6 1871 0)">T</text><text class="A" transform="matrix(1.3 0 0 1 1871 -6)">A</text><text class="T" transform="matrix(1.54 0 0 .6 1886 0)">T</text><text class="A" transform="matrix(1.3 0 0 1 1886 -6)">A</text>
</g>
<g id="logo-r31" transform="translate(0,1878)">
<text class="A" transform="matrix(1.3 0 0 .6 1076 0)">A</text><text class="T" transform="matrix(1.54 0 0 4.6 1090 0)">T</text><text class="C" transform="matrix(1.3 0 0 5 1105 0)">C</text><text class="A" transform="matrix(1.3 0 0 4.8 1119 0)">A</text><text class="C" transform="matrix(1.3 0 0 5 1133 0)">C</text><text class="A" transform="matrix(1.3 0 0 .8 1147 0)">A</text><text class="G" transform="matrix(1.21 0 0 1.2 1147 -8)">G</text><text class="T" transform="matrix(1.54 0 0 5 1162 0)">T</text><text class="G" transform="matrix(1.21 0 0 5 1176 0)">G</text>
<rect class="b1" x="1285" y="-50" width="12" height="50"/><rect class="b3" x="1288" y="-50" width="4" height="50"/><rect class="b4" x="1289" y="-50" width="2" height="50"/>
<text class="A" transform="matrix(1.3 0 0 .4 1533 0)">A</text><text class="T" transform="matrix(1.54 0 0 .8 1533 -4)">T</text><text class="G" transform="matrix(1.21 0 0 4 1547 0)">G</text><text class="A" transform="matrix(1.3 0 0 .6 1561 0)">A</text><text class="T" transform="matrix(1.54 0 0 2.6 1561 -6)">T</text><text class="A" transform="matrix(1.3 0 0 .4 1575 0)">A</text><text class="T" transform="matrix(1.54 0 0 .6 1575 -4)">T</text><text class="T" transform="matrix(1.54 0 0 3 1589 0)">T</text><text class="A" transform="matrix(1.3 0 0 .6 1604 0)">A</text><text class="T" transform="matrix(1.54 0 0 1 1604 -6)">T</text><text class="A" transform="matrix(1.3 0 0 .6 1618 0)">A</text><text class="T" transform="matrix(1.54 0 0 1.6 1618 -6)">T</text><text class="G" transform="matrix(1.21 0 0 3.6 1632 0)">G</text><text class="A" transform="matrix(1.3 0 0 .6 1646 0)">A</text><text class="T" transform="matrix(1.54 0 0 .8 1660 0)">T</text><text class="A" transform="matrix(1.3 0 0 .4 1674 0)">A</text><text class="T" transform="matrix(1.54 0 0 3 1674 -4)">T</text><text class="T" transform="matrix(1.54 0 0 4.8 1688 0)">T</text><text class="C" transform="matrix(1.3 0 0 4.8 1702 0)">C</text><text class="C" transform="matrix(1.3 0 0 4.8 1716 0)">C</text><text class="G" transform="matrix(1.21 0 0 4.8 1730 0)">G</text><text class="A" transform="matrix(1.3 0 0 4.8 1745 0)">A</text><text class="A" transform="matrix(1.3 0 0 4.4 1759 0)">A</text><text class="C" transform="matrix(1.3 0 0 .4 1773 0)">C</text><text class="A" transform="matrix(1.3 0 0 .5 1815 0)">A</text><text class="T" transform="matrix(1.54 0 0 .4 1829 0)">T</text><text class="A" transform="matrix(1.3 0 0 1 1829 -4)">A</text><text class="T" transform="matrix(1.54 0 0 .4 1843 0)">T</text><text class="A" transform="matrix(1.3 0 0 1.6 1843 -4)">A</text><text class="T" transform="matrix(1.54 0 0 .4 1857 0)">T</text><text class="A" transform="matrix(1.3 0 0 1.6 1857 -4)">A</text><text class="T" transform="matrix(1.54 0 0 .4 1871 0)">T</text><text class="A" transform="matrix(1.3 0 0 1 1871 -4)">A</text><text class="A" transform="matrix(1.3 0 0 .6 1886 0)">A</text>
</g>
</g>
</svg>
